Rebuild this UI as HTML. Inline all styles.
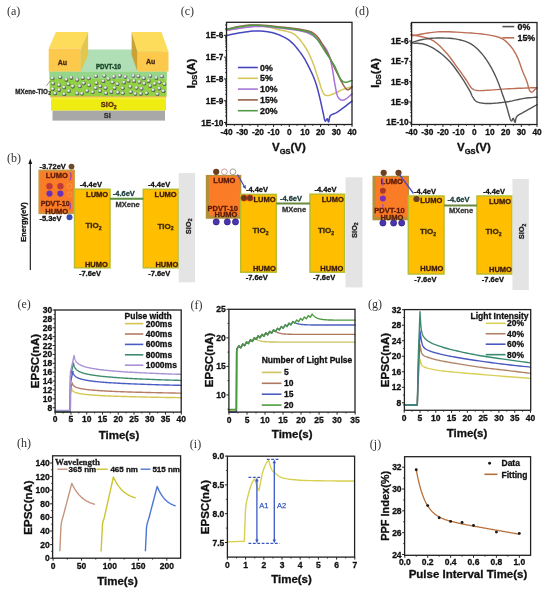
<!DOCTYPE html>
<html><head><meta charset="utf-8"><style>
html,body{margin:0;padding:0;background:#fff;width:550px;height:594px;overflow:hidden}
svg{display:block;will-change:transform}
</style></head><body>
<svg width="550" height="594" viewBox="0 0 550 594">
<rect x="0" y="0" width="550" height="594" fill="#fff"/>
<text x="7" y="14.5" font-size="12" text-anchor="start" font-weight="normal" fill="#333" font-family="'Liberation Serif', serif" >(a)</text>
<rect x="52.5" y="110.4" width="112.5" height="10.2" fill="#a8a8a8" stroke="none" stroke-width="1" />
<rect x="51" y="97.2" width="115" height="13.3" fill="#eeec10" stroke="none" stroke-width="1" />
<rect x="51" y="97.2" width="115" height="2" fill="#f0ee40" stroke="none" stroke-width="1" />
<rect x="50" y="96.1" width="116.5" height="1.2" fill="#e0b448" stroke="none" stroke-width="1" />
<rect x="49.6" y="71.5" width="117" height="24.6" fill="#92d046" stroke="none" stroke-width="1" />
<rect x="49.6" y="71.5" width="117" height="7.5" fill="#96d68a" stroke="none" stroke-width="1" />
<polygon points="56,49.6 162,49.6 168,71.6 49,71.6" fill="#b0dfb6" stroke="none" stroke-width="1" />
<polygon points="55.9,32 88.1,32 80.7,48.5 48.7,48.5" fill="#fddc5c" stroke="none" stroke-width="1" />
<polygon points="80.7,48.5 88.1,32 88.1,55 80.7,71.5" fill="#e2c64e" stroke="none" stroke-width="1" />
<rect x="48.7" y="48.5" width="32" height="23" fill="#fcc94c" stroke="none" stroke-width="1" />
<polygon points="131.6,32 161.5,32 168.5,51.7 137.4,51.7" fill="#fddc5c" stroke="none" stroke-width="1" />
<polygon points="131.6,32 137.4,51.7 137.4,71.5 131.6,55" fill="#c9a235" stroke="none" stroke-width="1" />
<rect x="137.4" y="51.7" width="31.1" height="19.8" fill="#fcc94c" stroke="none" stroke-width="1" />
<defs><radialGradient id="sph" cx="40%" cy="35%" r="65%"><stop offset="0" stop-color="#ffffff"/><stop offset="0.35" stop-color="#d4d8d4"/><stop offset="0.75" stop-color="#6c746c"/><stop offset="1" stop-color="#343c34"/></radialGradient></defs>
<circle cx="88.77" cy="78.34" r="1.95" fill="url(#sph)" stroke="none" stroke-width="1" />
<circle cx="125.4" cy="76.86" r="1.95" fill="url(#sph)" stroke="none" stroke-width="1" />
<circle cx="112.52" cy="82.37" r="1.95" fill="url(#sph)" stroke="none" stroke-width="1" />
<circle cx="59" cy="85.04" r="1.95" fill="url(#sph)" stroke="none" stroke-width="1" />
<circle cx="60.32" cy="77.21" r="1.95" fill="url(#sph)" stroke="none" stroke-width="1" />
<circle cx="100.05" cy="91.04" r="1.95" fill="url(#sph)" stroke="none" stroke-width="1" />
<circle cx="66.37" cy="79.7" r="1.95" fill="url(#sph)" stroke="none" stroke-width="1" />
<circle cx="122.77" cy="93.32" r="1.95" fill="url(#sph)" stroke="none" stroke-width="1" />
<circle cx="161.84" cy="76.38" r="1.95" fill="url(#sph)" stroke="none" stroke-width="1" />
<circle cx="148.65" cy="80.94" r="1.95" fill="url(#sph)" stroke="none" stroke-width="1" />
<circle cx="87.05" cy="90.84" r="1.95" fill="url(#sph)" stroke="none" stroke-width="1" />
<circle cx="72.74" cy="86.43" r="1.95" fill="url(#sph)" stroke="none" stroke-width="1" />
<circle cx="124.06" cy="82.5" r="1.95" fill="url(#sph)" stroke="none" stroke-width="1" />
<circle cx="113.85" cy="76.68" r="1.95" fill="url(#sph)" stroke="none" stroke-width="1" />
<circle cx="103.26" cy="81.14" r="1.95" fill="url(#sph)" stroke="none" stroke-width="1" />
<circle cx="141.47" cy="88.64" r="1.95" fill="url(#sph)" stroke="none" stroke-width="1" />
<circle cx="79.84" cy="86.3" r="1.95" fill="url(#sph)" stroke="none" stroke-width="1" />
<circle cx="111.32" cy="91.95" r="1.95" fill="url(#sph)" stroke="none" stroke-width="1" />
<circle cx="134.2" cy="80.91" r="1.95" fill="url(#sph)" stroke="none" stroke-width="1" />
<circle cx="130.37" cy="86.67" r="1.95" fill="url(#sph)" stroke="none" stroke-width="1" />
<circle cx="117.45" cy="84.08" r="1.95" fill="url(#sph)" stroke="none" stroke-width="1" />
<circle cx="146.58" cy="93.26" r="1.95" fill="url(#sph)" stroke="none" stroke-width="1" />
<circle cx="105.6" cy="87.99" r="1.95" fill="url(#sph)" stroke="none" stroke-width="1" />
<circle cx="95.71" cy="88.07" r="1.95" fill="url(#sph)" stroke="none" stroke-width="1" />
<circle cx="71.32" cy="77.7" r="1.95" fill="url(#sph)" stroke="none" stroke-width="1" />
<circle cx="59.1" cy="89.94" r="1.95" fill="url(#sph)" stroke="none" stroke-width="1" />
<circle cx="83.68" cy="83.31" r="1.95" fill="url(#sph)" stroke="none" stroke-width="1" />
<circle cx="92.68" cy="92.12" r="1.95" fill="url(#sph)" stroke="none" stroke-width="1" />
<circle cx="52.96" cy="83.38" r="1.95" fill="url(#sph)" stroke="none" stroke-width="1" />
<circle cx="159.25" cy="88.48" r="1.95" fill="url(#sph)" stroke="none" stroke-width="1" />
<circle cx="153.25" cy="90.16" r="1.95" fill="url(#sph)" stroke="none" stroke-width="1" />
<circle cx="96.45" cy="83" r="1.95" fill="url(#sph)" stroke="none" stroke-width="1" />
<circle cx="64.1" cy="87.42" r="1.95" fill="url(#sph)" stroke="none" stroke-width="1" />
<circle cx="52.53" cy="78.34" r="1.95" fill="url(#sph)" stroke="none" stroke-width="1" />
<circle cx="55.09" cy="93.38" r="1.95" fill="url(#sph)" stroke="none" stroke-width="1" />
<circle cx="157.45" cy="94.08" r="1.95" fill="url(#sph)" stroke="none" stroke-width="1" />
<circle cx="159.46" cy="82.36" r="1.95" fill="url(#sph)" stroke="none" stroke-width="1" />
<circle cx="77.19" cy="79.76" r="1.95" fill="url(#sph)" stroke="none" stroke-width="1" />
<circle cx="68.87" cy="91.04" r="1.95" fill="url(#sph)" stroke="none" stroke-width="1" />
<circle cx="117.84" cy="92.5" r="1.95" fill="url(#sph)" stroke="none" stroke-width="1" />
<circle cx="89.01" cy="85.24" r="1.95" fill="url(#sph)" stroke="none" stroke-width="1" />
<circle cx="154.7" cy="83.83" r="1.95" fill="url(#sph)" stroke="none" stroke-width="1" />
<circle cx="106.04" cy="93.2" r="1.95" fill="url(#sph)" stroke="none" stroke-width="1" />
<circle cx="130.81" cy="91.98" r="1.95" fill="url(#sph)" stroke="none" stroke-width="1" />
<circle cx="77.09" cy="93.41" r="1.95" fill="url(#sph)" stroke="none" stroke-width="1" />
<circle cx="163.37" cy="91.15" r="1.95" fill="url(#sph)" stroke="none" stroke-width="1" />
<circle cx="133.38" cy="75.87" r="1.95" fill="url(#sph)" stroke="none" stroke-width="1" />
<circle cx="140.8" cy="93.77" r="1.95" fill="url(#sph)" stroke="none" stroke-width="1" />
<circle cx="82.79" cy="77.94" r="1.95" fill="url(#sph)" stroke="none" stroke-width="1" />
<circle cx="108.51" cy="78.84" r="1.95" fill="url(#sph)" stroke="none" stroke-width="1" />
<circle cx="144.22" cy="83.62" r="1.95" fill="url(#sph)" stroke="none" stroke-width="1" />
<circle cx="81.98" cy="93.58" r="1.95" fill="url(#sph)" stroke="none" stroke-width="1" />
<circle cx="136.56" cy="87.86" r="1.95" fill="url(#sph)" stroke="none" stroke-width="1" />
<circle cx="122.64" cy="88.3" r="1.95" fill="url(#sph)" stroke="none" stroke-width="1" />
<circle cx="135.36" cy="93.84" r="1.95" fill="url(#sph)" stroke="none" stroke-width="1" />
<circle cx="156.3" cy="77.89" r="1.95" fill="url(#sph)" stroke="none" stroke-width="1" />
<circle cx="150.26" cy="75.91" r="1.95" fill="url(#sph)" stroke="none" stroke-width="1" />
<circle cx="119.82" cy="75.7" r="1.95" fill="url(#sph)" stroke="none" stroke-width="1" />
<circle cx="138.37" cy="76.26" r="1.95" fill="url(#sph)" stroke="none" stroke-width="1" />
<circle cx="143.85" cy="78.2" r="1.95" fill="url(#sph)" stroke="none" stroke-width="1" />
<circle cx="150.27" cy="85.94" r="1.95" fill="url(#sph)" stroke="none" stroke-width="1" />
<circle cx="64.22" cy="94.17" r="1.95" fill="url(#sph)" stroke="none" stroke-width="1" />
<circle cx="95.99" cy="76.14" r="1.95" fill="url(#sph)" stroke="none" stroke-width="1" />
<circle cx="52.8" cy="89.07" r="1.95" fill="url(#sph)" stroke="none" stroke-width="1" />
<circle cx="139.51" cy="81.86" r="1.95" fill="url(#sph)" stroke="none" stroke-width="1" />
<circle cx="128.49" cy="80.64" r="1.95" fill="url(#sph)" stroke="none" stroke-width="1" />
<circle cx="104.4" cy="75.76" r="1.95" fill="url(#sph)" stroke="none" stroke-width="1" />
<circle cx="164.45" cy="84.08" r="1.95" fill="url(#sph)" stroke="none" stroke-width="1" />
<circle cx="68.42" cy="84.15" r="1.95" fill="url(#sph)" stroke="none" stroke-width="1" />
<circle cx="114.57" cy="87.96" r="1.95" fill="url(#sph)" stroke="none" stroke-width="1" />
<circle cx="100.3" cy="86.25" r="1.95" fill="url(#sph)" stroke="none" stroke-width="1" />
<text x="62.4" y="64.52" font-size="7" text-anchor="middle" font-weight="bold" fill="#4a2a10" font-family="'Liberation Sans', sans-serif"  stroke="#4a2a10" stroke-width="0.3">Au</text>
<text x="150.7" y="64.22" font-size="7" text-anchor="middle" font-weight="bold" fill="#4a2a10" font-family="'Liberation Sans', sans-serif"  stroke="#4a2a10" stroke-width="0.3">Au</text>
<text x="108.4" y="69.19" font-size="7.2" text-anchor="middle" font-weight="bold" fill="#1a4a2a" font-family="'Liberation Sans', sans-serif" textLength="25" lengthAdjust="spacingAndGlyphs" stroke="#1a4a2a" stroke-width="0.45">PDVT-10</text>
<text x="108.7" y="107.2" font-size="7.5" text-anchor="middle" font-weight="bold" fill="#5a2a10" stroke="#5a2a10" stroke-width="0.3" font-family="'Liberation Sans', sans-serif">SiO<tspan font-size="5" dy="1.5">2</tspan></text>
<text x="107.4" y="118" font-size="7.5" text-anchor="middle" font-weight="bold" fill="#333" font-family="'Liberation Sans', sans-serif"  stroke="#333" stroke-width="0.3">Si</text>
<text x="15.3" y="93.6" font-size="7.2" font-weight="bold" fill="#222" stroke="#222" stroke-width="0.3" font-family="'Liberation Sans', sans-serif" textLength="32.6" lengthAdjust="spacingAndGlyphs">MXene-TiO</text>
<text x="48.2" y="95.3" font-size="4.8" font-weight="bold" fill="#222" stroke="#222" stroke-width="0.2" font-family="'Liberation Sans', sans-serif">2</text>
<line x1="46.3" y1="85.9" x2="50.2" y2="81" stroke="#555" stroke-width="0.6" />
<text x="7" y="161.5" font-size="12" text-anchor="start" font-weight="normal" fill="#333" font-family="'Liberation Serif', serif" >(b)</text>
<line x1="30.3" y1="162" x2="30.3" y2="270" stroke="#111" stroke-width="1.1" />
<polygon points="30.3,158.5 28.4,164 32.2,164" fill="#111" stroke="none" stroke-width="1" />
<text x="0" y="0" transform="translate(26,222) rotate(-90)" font-size="7.5" text-anchor="middle" font-weight="bold" fill="#111" stroke="#111" stroke-width="0.3" font-family="'Liberation Sans', sans-serif">Energy(eV)</text>
<rect x="39.3" y="170.5" width="34.7" height="42.7" fill="#fb7c26" stroke="#c89a48" stroke-width="1.8" />
<rect x="74.5" y="189.2" width="35.5" height="78.6" fill="#ffbf00" stroke="#b8bc30" stroke-width="1.5" />
<rect x="143.3" y="189.3" width="35" height="78.5" fill="#ffbf00" stroke="#b8bc30" stroke-width="1.5" />
<rect x="178.7" y="173.1" width="16.4" height="109.2" fill="#e4e4e4" stroke="none" stroke-width="1" />
<line x1="110" y1="198.7" x2="143.3" y2="198.7" stroke="#5a9040" stroke-width="2" />
<text x="52.7" y="168.8" font-size="7.5" text-anchor="middle" font-weight="bold" fill="#111" font-family="'Liberation Sans', sans-serif"  stroke="#111" stroke-width="0.3">-3.72eV</text>
<circle cx="71.5" cy="166.6" r="2.9" fill="#6a4a2a" stroke="none" stroke-width="1" />
<text x="56.7" y="177.5" font-size="7.5" text-anchor="middle" font-weight="bold" fill="#5a1a0a" font-family="'Liberation Sans', sans-serif"  stroke="#5a1a0a" stroke-width="0.3">LUMO</text>
<circle cx="49.5" cy="186.3" r="3.2" fill="#c03a3a" stroke="none" stroke-width="1" />
<circle cx="49.5" cy="193.6" r="3.1" fill="#6a30b8" stroke="none" stroke-width="1" />
<circle cx="60.4" cy="186.3" r="3.2" fill="#c03a3a" stroke="none" stroke-width="1" />
<circle cx="60.4" cy="193.6" r="3.1" fill="#6a30b8" stroke="none" stroke-width="1" />
<text x="55.2" y="206.3" font-size="7.5" text-anchor="middle" font-weight="bold" fill="#5a1a0a" font-family="'Liberation Sans', sans-serif" textLength="29" lengthAdjust="spacingAndGlyphs" stroke="#5a1a0a" stroke-width="0.3">PDVT-10</text>
<text x="56.7" y="213.7" font-size="7.5" text-anchor="middle" font-weight="bold" fill="#5a1a0a" font-family="'Liberation Sans', sans-serif"  stroke="#5a1a0a" stroke-width="0.3">HUMO</text>
<text x="50.5" y="221" font-size="7.5" text-anchor="middle" font-weight="bold" fill="#111" font-family="'Liberation Sans', sans-serif"  stroke="#111" stroke-width="0.3">-5.3eV</text>
<circle cx="69.5" cy="217.2" r="3" fill="#3a4ab0" stroke="none" stroke-width="1" />
<path d="M70.2,172.5 Q72.2,176 69.8,180.5" fill="none" stroke="#8a40c8" stroke-width="1.1"/>
<path d="M69.6,209.5 Q71.4,205.5 69.4,202" fill="none" stroke="#8a40c8" stroke-width="1.1"/>
<circle cx="69.6" cy="186.2" r="2.4" fill="none" stroke="#f2a050" stroke-width="0.8" />
<circle cx="69.6" cy="194.3" r="2.4" fill="none" stroke="#f2a050" stroke-width="0.8" />
<text x="90.9" y="187.4" font-size="7.5" text-anchor="middle" font-weight="bold" fill="#111" font-family="'Liberation Sans', sans-serif"  stroke="#111" stroke-width="0.3">-4.4eV</text>
<text x="97.1" y="196.9" font-size="7.5" text-anchor="middle" font-weight="bold" fill="#3a1a0a" font-family="'Liberation Sans', sans-serif"  stroke="#3a1a0a" stroke-width="0.3">LUMO</text>
<text x="93.6" y="228.28" font-size="8" text-anchor="middle" font-weight="bold" fill="#3a2a10" stroke="#3a2a10" stroke-width="0.3" font-family="'Liberation Sans', sans-serif">TiO<tspan font-size="5" dy="1.5">2</tspan></text>
<text x="96.4" y="266.5" font-size="7.5" text-anchor="middle" font-weight="bold" fill="#3a1a0a" font-family="'Liberation Sans', sans-serif"  stroke="#3a1a0a" stroke-width="0.3">HUMO</text>
<text x="90" y="276.1" font-size="7.5" text-anchor="middle" font-weight="bold" fill="#111" font-family="'Liberation Sans', sans-serif"  stroke="#111" stroke-width="0.3">-7.6eV</text>
<text x="123.8" y="196" font-size="7.5" text-anchor="middle" font-weight="bold" fill="#1a3a3a" font-family="'Liberation Sans', sans-serif"  stroke="#1a3a3a" stroke-width="0.3">-4.6eV</text>
<text x="127.6" y="206.7" font-size="7.5" text-anchor="middle" font-weight="bold" fill="#333" font-family="'Liberation Sans', sans-serif"  stroke="#333" stroke-width="0.3">MXene</text>
<text x="159.1" y="187.2" font-size="7.5" text-anchor="middle" font-weight="bold" fill="#111" font-family="'Liberation Sans', sans-serif"  stroke="#111" stroke-width="0.3">-4.4eV</text>
<text x="165.6" y="197.1" font-size="7.5" text-anchor="middle" font-weight="bold" fill="#3a1a0a" font-family="'Liberation Sans', sans-serif"  stroke="#3a1a0a" stroke-width="0.3">LUMO</text>
<text x="165.6" y="228.58" font-size="8" text-anchor="middle" font-weight="bold" fill="#3a2a10" stroke="#3a2a10" stroke-width="0.3" font-family="'Liberation Sans', sans-serif">TiO<tspan font-size="5" dy="1.5">2</tspan></text>
<text x="166.9" y="266.5" font-size="7.5" text-anchor="middle" font-weight="bold" fill="#3a1a0a" font-family="'Liberation Sans', sans-serif"  stroke="#3a1a0a" stroke-width="0.3">HUMO</text>
<text x="159.2" y="276.1" font-size="7.5" text-anchor="middle" font-weight="bold" fill="#111" font-family="'Liberation Sans', sans-serif"  stroke="#111" stroke-width="0.3">-7.6eV</text>
<text transform="translate(190.7,226.4) rotate(-90)" font-size="7.5" text-anchor="middle" font-weight="bold" fill="#222" stroke="#222" stroke-width="0.3" font-family="'Liberation Sans', sans-serif">SiO<tspan font-size="5" dy="1.5">2</tspan></text>
<rect x="206.4" y="175.5" width="34.3" height="42.6" fill="#fb7c26" stroke="#b4903a" stroke-width="1.2" />
<rect x="206.4" y="175.5" width="2.6" height="42.6" fill="#b4903a" stroke="none" stroke-width="1" />
<rect x="206.4" y="215.5" width="34.3" height="2.6" fill="#b4903a" stroke="none" stroke-width="1" />
<rect x="240.7" y="194.4" width="35.5" height="77.8" fill="#ffbf00" stroke="#b8bc30" stroke-width="1.5" />
<rect x="310" y="194.2" width="34.5" height="78" fill="#ffbf00" stroke="#b8bc30" stroke-width="1.5" />
<rect x="345.5" y="177.3" width="17" height="110.1" fill="#e4e4e4" stroke="none" stroke-width="1" />
<line x1="276.2" y1="203.6" x2="310" y2="203.6" stroke="#6a8a40" stroke-width="2" />
<circle cx="216.2" cy="171.8" r="3.1" fill="#6a4020" stroke="none" stroke-width="1" />
<circle cx="224.4" cy="171.8" r="2.9" fill="#fff" stroke="#c89090" stroke-width="0.9" />
<circle cx="232.9" cy="171.8" r="2.9" fill="#fff" stroke="#a09090" stroke-width="0.9" />
<text x="224.4" y="183.2" font-size="7.5" text-anchor="middle" font-weight="bold" fill="#5a1a0a" font-family="'Liberation Sans', sans-serif"  stroke="#5a1a0a" stroke-width="0.3">LUMO</text>
<line x1="237.5" y1="174.5" x2="244.6" y2="187" stroke="#4048b8" stroke-width="1.2" />
<polygon points="246,189.2 242.5,186.8 245.6,185" fill="#3a50b0" stroke="none" stroke-width="1" />
<text x="257" y="192.2" font-size="7.5" text-anchor="middle" font-weight="bold" fill="#111" font-family="'Liberation Sans', sans-serif"  stroke="#111" stroke-width="0.3">-4.4eV</text>
<circle cx="244" cy="198" r="3.1" fill="#6a3a1a" stroke="#d03030" stroke-width="0.7" />
<circle cx="249.9" cy="198" r="3.1" fill="#6a3a1a" stroke="#d03030" stroke-width="0.7" />
<text x="264.5" y="201.5" font-size="7.5" text-anchor="middle" font-weight="bold" fill="#3a1a0a" font-family="'Liberation Sans', sans-serif"  stroke="#3a1a0a" stroke-width="0.3">LUMO</text>
<text x="222.7" y="211" font-size="7.5" text-anchor="middle" font-weight="bold" fill="#5a1a0a" font-family="'Liberation Sans', sans-serif"  stroke="#5a1a0a" stroke-width="0.3">PDVT-10</text>
<text x="226" y="216.7" font-size="7.5" text-anchor="middle" font-weight="bold" fill="#5a1a0a" font-family="'Liberation Sans', sans-serif"  stroke="#5a1a0a" stroke-width="0.3">HUMO</text>
<circle cx="216.2" cy="221.9" r="3.1" fill="#4a34b0" stroke="#2a1a70" stroke-width="0.6" />
<circle cx="227.3" cy="221.9" r="3.1" fill="#4a34b0" stroke="#2a1a70" stroke-width="0.6" />
<circle cx="235.5" cy="221.9" r="3.1" fill="#4a34b0" stroke="#2a1a70" stroke-width="0.6" />
<text x="260.6" y="233.08" font-size="8" text-anchor="middle" font-weight="bold" fill="#3a2a10" stroke="#3a2a10" stroke-width="0.3" font-family="'Liberation Sans', sans-serif">TiO<tspan font-size="5" dy="1.5">2</tspan></text>
<text x="264.4" y="271" font-size="7.5" text-anchor="middle" font-weight="bold" fill="#3a1a0a" font-family="'Liberation Sans', sans-serif"  stroke="#3a1a0a" stroke-width="0.3">HUMO</text>
<text x="256.7" y="280" font-size="7.5" text-anchor="middle" font-weight="bold" fill="#111" font-family="'Liberation Sans', sans-serif"  stroke="#111" stroke-width="0.3">-7.6eV</text>
<text x="291" y="200.9" font-size="7.5" text-anchor="middle" font-weight="bold" fill="#1a3a3a" font-family="'Liberation Sans', sans-serif"  stroke="#1a3a3a" stroke-width="0.3">-4.6eV</text>
<text x="294" y="211.8" font-size="7.5" text-anchor="middle" font-weight="bold" fill="#333" font-family="'Liberation Sans', sans-serif"  stroke="#333" stroke-width="0.3">MXene</text>
<text x="325.5" y="191.8" font-size="7.5" text-anchor="middle" font-weight="bold" fill="#111" font-family="'Liberation Sans', sans-serif"  stroke="#111" stroke-width="0.3">-4.4eV</text>
<text x="332.7" y="201.8" font-size="7.5" text-anchor="middle" font-weight="bold" fill="#3a1a0a" font-family="'Liberation Sans', sans-serif"  stroke="#3a1a0a" stroke-width="0.3">LUMO</text>
<text x="326" y="233.08" font-size="8" text-anchor="middle" font-weight="bold" fill="#3a2a10" stroke="#3a2a10" stroke-width="0.3" font-family="'Liberation Sans', sans-serif">TiO<tspan font-size="5" dy="1.5">2</tspan></text>
<text x="331.8" y="271" font-size="7.5" text-anchor="middle" font-weight="bold" fill="#3a1a0a" font-family="'Liberation Sans', sans-serif"  stroke="#3a1a0a" stroke-width="0.3">HUMO</text>
<text x="324.1" y="280" font-size="7.5" text-anchor="middle" font-weight="bold" fill="#111" font-family="'Liberation Sans', sans-serif"  stroke="#111" stroke-width="0.3">-7.6eV</text>
<text transform="translate(356.9,230.2) rotate(-90)" font-size="7.5" text-anchor="middle" font-weight="bold" fill="#222" stroke="#222" stroke-width="0.3" font-family="'Liberation Sans', sans-serif">SiO<tspan font-size="5" dy="1.5">2</tspan></text>
<rect x="373.1" y="176.4" width="35.2" height="43.3" fill="#fb7c26" stroke="#b4903a" stroke-width="1.2" />
<rect x="373.1" y="176.4" width="2.6" height="43.3" fill="#b4903a" stroke="none" stroke-width="1" />
<rect x="373.1" y="217.1" width="35.2" height="2.6" fill="#b4903a" stroke="none" stroke-width="1" />
<rect x="408.3" y="196" width="35.7" height="78" fill="#ffbf00" stroke="#b8bc30" stroke-width="1.5" />
<rect x="477" y="196" width="35" height="78" fill="#ffbf00" stroke="#b8bc30" stroke-width="1.5" />
<rect x="512.4" y="179" width="16.4" height="111" fill="#e4e4e4" stroke="none" stroke-width="1" />
<line x1="444" y1="205.6" x2="477" y2="205.6" stroke="#6a8a40" stroke-width="2" />
<circle cx="383.7" cy="172.8" r="3.1" fill="#6a4020" stroke="none" stroke-width="1" />
<circle cx="398.5" cy="172.8" r="3.1" fill="#6a4020" stroke="none" stroke-width="1" />
<text x="391.9" y="184" font-size="7.5" text-anchor="middle" font-weight="bold" fill="#5a1a0a" font-family="'Liberation Sans', sans-serif"  stroke="#5a1a0a" stroke-width="0.3">LUMO</text>
<line x1="382.9" y1="178" x2="382.9" y2="186" stroke="#9040d0" stroke-width="1" />
<line x1="382.9" y1="204" x2="382.9" y2="208" stroke="#9040d0" stroke-width="1" />
<circle cx="382.9" cy="190.8" r="3" fill="#a83a2a" stroke="none" stroke-width="1" />
<circle cx="382.9" cy="198.5" r="3" fill="#7a30b8" stroke="none" stroke-width="1" />
<text x="389.5" y="212.7" font-size="7.5" text-anchor="middle" font-weight="bold" fill="#5a1a0a" font-family="'Liberation Sans', sans-serif"  stroke="#5a1a0a" stroke-width="0.3">PDVT-10</text>
<text x="391.9" y="220" font-size="7.5" text-anchor="middle" font-weight="bold" fill="#5a1a0a" font-family="'Liberation Sans', sans-serif"  stroke="#5a1a0a" stroke-width="0.3">HUMO</text>
<circle cx="382.9" cy="223" r="3.1" fill="#4a34b0" stroke="#2a1a70" stroke-width="0.6" />
<circle cx="393.6" cy="223" r="3.1" fill="#4a34b0" stroke="#2a1a70" stroke-width="0.6" />
<circle cx="401.7" cy="223" r="3.1" fill="#4a34b0" stroke="#2a1a70" stroke-width="0.6" />
<line x1="399.5" y1="174.5" x2="413.5" y2="193.5" stroke="#5048c0" stroke-width="1.3" />
<text x="425" y="193.5" font-size="7.5" text-anchor="middle" font-weight="bold" fill="#111" font-family="'Liberation Sans', sans-serif"  stroke="#111" stroke-width="0.3">-4.4eV</text>
<circle cx="416.5" cy="199" r="3.1" fill="#6a4020" stroke="none" stroke-width="1" />
<text x="431.2" y="202.8" font-size="7.5" text-anchor="middle" font-weight="bold" fill="#3a1a0a" font-family="'Liberation Sans', sans-serif"  stroke="#3a1a0a" stroke-width="0.3">LUMO</text>
<text x="428.1" y="234.28" font-size="8" text-anchor="middle" font-weight="bold" fill="#3a2a10" stroke="#3a2a10" stroke-width="0.3" font-family="'Liberation Sans', sans-serif">TiO<tspan font-size="5" dy="1.5">2</tspan></text>
<text x="431.8" y="271" font-size="7.5" text-anchor="middle" font-weight="bold" fill="#3a1a0a" font-family="'Liberation Sans', sans-serif"  stroke="#3a1a0a" stroke-width="0.3">HUMO</text>
<text x="425.4" y="282" font-size="7.5" text-anchor="middle" font-weight="bold" fill="#111" font-family="'Liberation Sans', sans-serif"  stroke="#111" stroke-width="0.3">-7.6eV</text>
<text x="458.5" y="201.7" font-size="7.5" text-anchor="middle" font-weight="bold" fill="#1a3a3a" font-family="'Liberation Sans', sans-serif"  stroke="#1a3a3a" stroke-width="0.3">-4.6eV</text>
<text x="461" y="213.1" font-size="7.5" text-anchor="middle" font-weight="bold" fill="#333" font-family="'Liberation Sans', sans-serif"  stroke="#333" stroke-width="0.3">MXene</text>
<text x="494" y="193.7" font-size="7.5" text-anchor="middle" font-weight="bold" fill="#111" font-family="'Liberation Sans', sans-serif"  stroke="#111" stroke-width="0.3">-4.4eV</text>
<text x="500" y="203.7" font-size="7.5" text-anchor="middle" font-weight="bold" fill="#3a1a0a" font-family="'Liberation Sans', sans-serif"  stroke="#3a1a0a" stroke-width="0.3">LUMO</text>
<text x="493.5" y="234.28" font-size="8" text-anchor="middle" font-weight="bold" fill="#3a2a10" stroke="#3a2a10" stroke-width="0.3" font-family="'Liberation Sans', sans-serif">TiO<tspan font-size="5" dy="1.5">2</tspan></text>
<text x="500.5" y="271.7" font-size="7.5" text-anchor="middle" font-weight="bold" fill="#3a1a0a" font-family="'Liberation Sans', sans-serif"  stroke="#3a1a0a" stroke-width="0.3">HUMO</text>
<text x="492.9" y="282" font-size="7.5" text-anchor="middle" font-weight="bold" fill="#111" font-family="'Liberation Sans', sans-serif"  stroke="#111" stroke-width="0.3">-7.6eV</text>
<text transform="translate(524.3,231.5) rotate(-90)" font-size="7.5" text-anchor="middle" font-weight="bold" fill="#222" stroke="#222" stroke-width="0.3" font-family="'Liberation Sans', sans-serif">SiO<tspan font-size="5" dy="1.5">2</tspan></text>
<text x="180.8" y="14.6" font-size="12" text-anchor="start" font-weight="normal" fill="#333" font-family="'Liberation Serif', serif" >(c)</text>
<polyline points="226.5,30.6 227.89,30.31 229.76,29.9 232,29.43 234.52,28.92 237.22,28.43 240,28 242.96,27.56 246.19,27.07 249.59,26.59 253.09,26.21 256.59,25.98 260,26 263.4,26.3 266.87,26.84 270.35,27.54 273.75,28.34 276.99,29.15 280,29.9 282.77,30.52 285.35,31.06 287.78,31.61 290.07,32.28 292.27,33.17 294.4,34.4 296.45,36.01 298.4,37.93 300.25,40.07 302,42.36 303.65,44.7 305.2,47 306.63,49.29 307.93,51.63 309.13,54.02 310.26,56.47 311.34,58.96 312.4,61.5 313.43,64.13 314.4,66.87 315.32,69.66 316.2,72.44 317.06,75.14 317.9,77.7 318.72,80.21 319.51,82.74 320.27,85.2 321,87.49 321.71,89.52 322.4,91.2 323.02,92.5 323.57,93.49 324.09,94.21 324.63,94.74 325.25,95.11 326,95.4 326.84,95.57 327.73,95.57 328.7,95.42 329.77,95.14 330.96,94.76 332.3,94.3 333.86,93.68 335.64,92.87 337.54,91.95 339.47,91.01 341.36,90.13 343.1,89.4 344.8,88.79 346.54,88.24 348.23,87.74 349.76,87.32 351.05,86.97 352,86.7" fill="none" stroke="#d4c65a" stroke-width="1.5" stroke-linejoin="round" stroke-linecap="round" />
<polyline points="226.5,30.3 228.55,29.97 231.43,29.51 234.81,28.96 238.41,28.4 241.91,27.89 245,27.5 247.64,27.2 250.07,26.94 252.41,26.73 254.76,26.57 257.25,26.5 260,26.5 262.96,26.58 266.04,26.73 269.25,26.96 272.63,27.26 276.2,27.64 280,28.1 284.24,28.61 288.94,29.15 293.84,29.77 298.67,30.53 303.14,31.45 307,32.6 310.22,34.03 313.03,35.73 315.49,37.6 317.67,39.56 319.65,41.52 321.5,43.4 323.16,45.17 324.57,46.9 325.78,48.62 326.84,50.4 327.79,52.28 328.7,54.3 329.52,56.48 330.2,58.77 330.78,61.17 331.3,63.64 331.79,66.16 332.3,68.7 332.8,71.35 333.27,74.13 333.71,76.97 334.13,79.77 334.56,82.44 335,84.9 335.43,87.2 335.83,89.43 336.24,91.54 336.67,93.47 337.15,95.17 337.7,96.6 338.35,97.73 339.07,98.6 339.84,99.24 340.63,99.7 341.43,100.01 342.2,100.2 342.94,100.24 343.67,100.1 344.4,99.81 345.14,99.4 345.9,98.92 346.7,98.4 347.6,97.75 348.6,96.93 349.63,96.04 350.6,95.17 351.41,94.42 352,93.9" fill="none" stroke="#a874d8" stroke-width="1.5" stroke-linejoin="round" stroke-linecap="round" />
<polyline points="226.5,35.6 227.94,35.28 229.92,34.84 232.27,34.31 234.84,33.76 237.47,33.24 240,32.8 242.51,32.41 245.12,32.01 247.8,31.65 250.49,31.34 253.14,31.11 255.7,31 258.21,31 260.73,31.11 263.21,31.29 265.6,31.55 267.88,31.86 270,32.2 271.91,32.57 273.62,32.97 275.22,33.43 276.77,33.96 278.34,34.58 280,35.3 281.75,36.09 283.54,36.93 285.35,37.85 287.17,38.91 288.99,40.14 290.8,41.6 292.64,43.35 294.53,45.36 296.43,47.56 298.27,49.84 300.01,52.12 301.6,54.3 303.02,56.38 304.3,58.44 305.48,60.49 306.59,62.57 307.69,64.7 308.8,66.9 309.93,69.18 311.06,71.5 312.17,73.88 313.24,76.3 314.25,78.78 315.2,81.3 316.07,83.9 316.87,86.57 317.62,89.29 318.34,92.03 319.02,94.78 319.7,97.5 320.37,100.3 321.03,103.23 321.67,106.16 322.27,108.96 322.81,111.52 323.3,113.7 323.7,115.54 324.02,117.14 324.29,118.5 324.54,119.6 324.8,120.44 325.1,121 325.44,121.12 325.8,120.77 326.17,120.16 326.53,119.49 326.88,118.97 327.2,118.8 327.48,119.12 327.73,119.79 327.97,120.61 328.2,121.37 328.44,121.87 328.7,121.9 328.92,121.35 329.08,120.37 329.24,119.12 329.49,117.78 329.88,116.51 330.5,115.5 331.31,114.82 332.24,114.36 333.32,113.98 334.57,113.53 336.03,112.88 337.7,111.9 339.84,110.39 342.47,108.43 345.3,106.28 348.03,104.17 350.36,102.36 352,101.1" fill="none" stroke="#4646c0" stroke-width="1.5" stroke-linejoin="round" stroke-linecap="round" />
<polyline points="226.5,29.3 227.94,28.96 229.92,28.46 232.27,27.89 234.84,27.29 237.47,26.74 240,26.3 242.39,25.93 244.75,25.59 247.18,25.29 249.75,25.06 252.56,24.92 255.7,24.9 259.26,25.02 263.2,25.28 267.37,25.62 271.65,26.03 275.9,26.47 280,26.9 284.08,27.31 288.26,27.74 292.43,28.19 296.43,28.69 300.13,29.25 303.4,29.9 306.16,30.53 308.5,31.09 310.54,31.72 312.4,32.54 314.22,33.7 316.1,35.3 318.05,37.5 319.97,40.23 321.84,43.28 323.64,46.46 325.33,49.57 326.9,52.4 328.31,54.97 329.57,57.43 330.72,59.82 331.83,62.17 332.94,64.52 334.1,66.9 335.32,69.38 336.57,71.94 337.81,74.5 339.03,76.97 340.2,79.27 341.3,81.3 342.33,83.12 343.3,84.8 344.22,86.31 345.1,87.6 345.93,88.64 346.7,89.4 347.43,89.78 348.1,89.8 348.73,89.57 349.31,89.2 349.83,88.81 350.3,88.5 350.71,88.23 351.07,87.9 351.38,87.54 351.63,87.2 351.84,86.91 352,86.7" fill="none" stroke="#946048" stroke-width="1.5" stroke-linejoin="round" stroke-linecap="round" />
<polyline points="226.5,29.6 227.94,29.28 229.92,28.83 232.27,28.29 234.84,27.74 237.47,27.22 240,26.8 242.39,26.43 244.75,26.07 247.18,25.74 249.75,25.49 252.56,25.33 255.7,25.3 259.22,25.42 263.06,25.65 267.14,25.99 271.38,26.4 275.69,26.88 280,27.4 284.55,27.97 289.46,28.6 294.45,29.29 299.23,30.04 303.5,30.84 307,31.7 309.55,32.55 311.36,33.39 312.68,34.28 313.74,35.29 314.8,36.51 316.1,38 317.61,39.83 319.11,41.96 320.61,44.29 322.1,46.73 323.6,49.16 325.1,51.5 326.63,53.76 328.2,56.03 329.77,58.3 331.3,60.57 332.76,62.84 334.1,65.1 335.33,67.47 336.47,69.97 337.53,72.47 338.53,74.84 339.49,76.92 340.4,78.6 341.25,79.82 342.03,80.7 342.76,81.3 343.47,81.7 344.17,81.97 344.9,82.2 345.67,82.31 346.47,82.23 347.27,82.03 348.04,81.77 348.76,81.5 349.4,81.3 349.97,81.14 350.5,80.97 350.98,80.79 351.4,80.63 351.74,80.5 352,80.4" fill="none" stroke="#529a48" stroke-width="1.5" stroke-linejoin="round" stroke-linecap="round" />
<line x1="237.9" y1="67.5" x2="257.8" y2="67.5" stroke="#4646c0" stroke-width="1.6" />
<text x="260" y="70.67" font-size="8.8" text-anchor="start" font-weight="bold" fill="#111" font-family="'Liberation Sans', sans-serif"  stroke="#111" stroke-width="0.3">0%</text>
<line x1="237.9" y1="78.3" x2="257.8" y2="78.3" stroke="#d4c65a" stroke-width="1.6" />
<text x="260" y="81.47" font-size="8.8" text-anchor="start" font-weight="bold" fill="#111" font-family="'Liberation Sans', sans-serif"  stroke="#111" stroke-width="0.3">5%</text>
<line x1="237.9" y1="89.1" x2="257.8" y2="89.1" stroke="#a874d8" stroke-width="1.6" />
<text x="260" y="92.27" font-size="8.8" text-anchor="start" font-weight="bold" fill="#111" font-family="'Liberation Sans', sans-serif"  stroke="#111" stroke-width="0.3">10%</text>
<line x1="237.9" y1="99.9" x2="257.8" y2="99.9" stroke="#946048" stroke-width="1.6" />
<text x="260" y="103.07" font-size="8.8" text-anchor="start" font-weight="bold" fill="#111" font-family="'Liberation Sans', sans-serif"  stroke="#111" stroke-width="0.3">15%</text>
<line x1="237.9" y1="110.7" x2="257.8" y2="110.7" stroke="#529a48" stroke-width="1.6" />
<text x="260" y="113.87" font-size="8.8" text-anchor="start" font-weight="bold" fill="#111" font-family="'Liberation Sans', sans-serif"  stroke="#111" stroke-width="0.3">20%</text>
<rect x="226.5" y="22.3" width="125.5" height="102.2" fill="none" stroke="#222" stroke-width="1.3" />
<line x1="224" y1="35.4" x2="226.5" y2="35.4" stroke="#222" stroke-width="1" />
<text x="223.4" y="38.39" font-size="8.3" text-anchor="end" font-weight="bold" fill="#111" font-family="'Liberation Sans', sans-serif"  stroke="#111" stroke-width="0.3">1E-6</text>
<line x1="224" y1="57.18" x2="226.5" y2="57.18" stroke="#222" stroke-width="1" />
<text x="223.4" y="60.17" font-size="8.3" text-anchor="end" font-weight="bold" fill="#111" font-family="'Liberation Sans', sans-serif"  stroke="#111" stroke-width="0.3">1E-7</text>
<line x1="224" y1="78.96" x2="226.5" y2="78.96" stroke="#222" stroke-width="1" />
<text x="223.4" y="81.95" font-size="8.3" text-anchor="end" font-weight="bold" fill="#111" font-family="'Liberation Sans', sans-serif"  stroke="#111" stroke-width="0.3">1E-8</text>
<line x1="224" y1="100.74" x2="226.5" y2="100.74" stroke="#222" stroke-width="1" />
<text x="223.4" y="103.73" font-size="8.3" text-anchor="end" font-weight="bold" fill="#111" font-family="'Liberation Sans', sans-serif"  stroke="#111" stroke-width="0.3">1E-9</text>
<line x1="224" y1="122.52" x2="226.5" y2="122.52" stroke="#222" stroke-width="1" />
<text x="223.4" y="125.51" font-size="8.3" text-anchor="end" font-weight="bold" fill="#111" font-family="'Liberation Sans', sans-serif"  stroke="#111" stroke-width="0.3">1E-10</text>
<line x1="225" y1="124.63" x2="226.5" y2="124.63" stroke="#222" stroke-width="0.8" />
<line x1="225" y1="123.52" x2="226.5" y2="123.52" stroke="#222" stroke-width="0.8" />
<line x1="225" y1="115.96" x2="226.5" y2="115.96" stroke="#222" stroke-width="0.8" />
<line x1="225" y1="112.13" x2="226.5" y2="112.13" stroke="#222" stroke-width="0.8" />
<line x1="225" y1="109.41" x2="226.5" y2="109.41" stroke="#222" stroke-width="0.8" />
<line x1="225" y1="107.3" x2="226.5" y2="107.3" stroke="#222" stroke-width="0.8" />
<line x1="225" y1="105.57" x2="226.5" y2="105.57" stroke="#222" stroke-width="0.8" />
<line x1="225" y1="104.11" x2="226.5" y2="104.11" stroke="#222" stroke-width="0.8" />
<line x1="225" y1="102.85" x2="226.5" y2="102.85" stroke="#222" stroke-width="0.8" />
<line x1="225" y1="101.74" x2="226.5" y2="101.74" stroke="#222" stroke-width="0.8" />
<line x1="225" y1="94.18" x2="226.5" y2="94.18" stroke="#222" stroke-width="0.8" />
<line x1="225" y1="90.35" x2="226.5" y2="90.35" stroke="#222" stroke-width="0.8" />
<line x1="225" y1="87.63" x2="226.5" y2="87.63" stroke="#222" stroke-width="0.8" />
<line x1="225" y1="85.52" x2="226.5" y2="85.52" stroke="#222" stroke-width="0.8" />
<line x1="225" y1="83.79" x2="226.5" y2="83.79" stroke="#222" stroke-width="0.8" />
<line x1="225" y1="82.33" x2="226.5" y2="82.33" stroke="#222" stroke-width="0.8" />
<line x1="225" y1="81.07" x2="226.5" y2="81.07" stroke="#222" stroke-width="0.8" />
<line x1="225" y1="79.96" x2="226.5" y2="79.96" stroke="#222" stroke-width="0.8" />
<line x1="225" y1="72.4" x2="226.5" y2="72.4" stroke="#222" stroke-width="0.8" />
<line x1="225" y1="68.57" x2="226.5" y2="68.57" stroke="#222" stroke-width="0.8" />
<line x1="225" y1="65.85" x2="226.5" y2="65.85" stroke="#222" stroke-width="0.8" />
<line x1="225" y1="63.74" x2="226.5" y2="63.74" stroke="#222" stroke-width="0.8" />
<line x1="225" y1="62.01" x2="226.5" y2="62.01" stroke="#222" stroke-width="0.8" />
<line x1="225" y1="60.55" x2="226.5" y2="60.55" stroke="#222" stroke-width="0.8" />
<line x1="225" y1="59.29" x2="226.5" y2="59.29" stroke="#222" stroke-width="0.8" />
<line x1="225" y1="58.18" x2="226.5" y2="58.18" stroke="#222" stroke-width="0.8" />
<line x1="225" y1="50.62" x2="226.5" y2="50.62" stroke="#222" stroke-width="0.8" />
<line x1="225" y1="46.79" x2="226.5" y2="46.79" stroke="#222" stroke-width="0.8" />
<line x1="225" y1="44.07" x2="226.5" y2="44.07" stroke="#222" stroke-width="0.8" />
<line x1="225" y1="41.96" x2="226.5" y2="41.96" stroke="#222" stroke-width="0.8" />
<line x1="225" y1="40.23" x2="226.5" y2="40.23" stroke="#222" stroke-width="0.8" />
<line x1="225" y1="38.77" x2="226.5" y2="38.77" stroke="#222" stroke-width="0.8" />
<line x1="225" y1="37.51" x2="226.5" y2="37.51" stroke="#222" stroke-width="0.8" />
<line x1="225" y1="36.4" x2="226.5" y2="36.4" stroke="#222" stroke-width="0.8" />
<line x1="225" y1="28.84" x2="226.5" y2="28.84" stroke="#222" stroke-width="0.8" />
<line x1="225" y1="25.01" x2="226.5" y2="25.01" stroke="#222" stroke-width="0.8" />
<line x1="226.5" y1="124.5" x2="226.5" y2="127" stroke="#222" stroke-width="1" />
<text x="226.5" y="135.29" font-size="8.3" text-anchor="middle" font-weight="bold" fill="#111" font-family="'Liberation Sans', sans-serif"  stroke="#111" stroke-width="0.3">-40</text>
<line x1="242.19" y1="124.5" x2="242.19" y2="127" stroke="#222" stroke-width="1" />
<text x="242.19" y="135.29" font-size="8.3" text-anchor="middle" font-weight="bold" fill="#111" font-family="'Liberation Sans', sans-serif"  stroke="#111" stroke-width="0.3">-30</text>
<line x1="257.88" y1="124.5" x2="257.88" y2="127" stroke="#222" stroke-width="1" />
<text x="257.88" y="135.29" font-size="8.3" text-anchor="middle" font-weight="bold" fill="#111" font-family="'Liberation Sans', sans-serif"  stroke="#111" stroke-width="0.3">-20</text>
<line x1="273.56" y1="124.5" x2="273.56" y2="127" stroke="#222" stroke-width="1" />
<text x="273.56" y="135.29" font-size="8.3" text-anchor="middle" font-weight="bold" fill="#111" font-family="'Liberation Sans', sans-serif"  stroke="#111" stroke-width="0.3">-10</text>
<line x1="289.25" y1="124.5" x2="289.25" y2="127" stroke="#222" stroke-width="1" />
<text x="289.25" y="135.29" font-size="8.3" text-anchor="middle" font-weight="bold" fill="#111" font-family="'Liberation Sans', sans-serif"  stroke="#111" stroke-width="0.3">0</text>
<line x1="304.94" y1="124.5" x2="304.94" y2="127" stroke="#222" stroke-width="1" />
<text x="304.94" y="135.29" font-size="8.3" text-anchor="middle" font-weight="bold" fill="#111" font-family="'Liberation Sans', sans-serif"  stroke="#111" stroke-width="0.3">10</text>
<line x1="320.62" y1="124.5" x2="320.62" y2="127" stroke="#222" stroke-width="1" />
<text x="320.62" y="135.29" font-size="8.3" text-anchor="middle" font-weight="bold" fill="#111" font-family="'Liberation Sans', sans-serif"  stroke="#111" stroke-width="0.3">20</text>
<line x1="336.31" y1="124.5" x2="336.31" y2="127" stroke="#222" stroke-width="1" />
<text x="336.31" y="135.29" font-size="8.3" text-anchor="middle" font-weight="bold" fill="#111" font-family="'Liberation Sans', sans-serif"  stroke="#111" stroke-width="0.3">30</text>
<line x1="352" y1="124.5" x2="352" y2="127" stroke="#222" stroke-width="1" />
<text x="352" y="135.29" font-size="8.3" text-anchor="middle" font-weight="bold" fill="#111" font-family="'Liberation Sans', sans-serif"  stroke="#111" stroke-width="0.3">40</text>
<line x1="234.34" y1="124.5" x2="234.34" y2="126" stroke="#222" stroke-width="0.8" />
<line x1="250.03" y1="124.5" x2="250.03" y2="126" stroke="#222" stroke-width="0.8" />
<line x1="265.72" y1="124.5" x2="265.72" y2="126" stroke="#222" stroke-width="0.8" />
<line x1="281.41" y1="124.5" x2="281.41" y2="126" stroke="#222" stroke-width="0.8" />
<line x1="297.09" y1="124.5" x2="297.09" y2="126" stroke="#222" stroke-width="0.8" />
<line x1="312.78" y1="124.5" x2="312.78" y2="126" stroke="#222" stroke-width="0.8" />
<line x1="328.47" y1="124.5" x2="328.47" y2="126" stroke="#222" stroke-width="0.8" />
<line x1="344.16" y1="124.5" x2="344.16" y2="126" stroke="#222" stroke-width="0.8" />
<text transform="translate(194.5,88.3) rotate(-90)" font-size="11.5" font-weight="bold" fill="#111" stroke="#111" stroke-width="0.3" font-family="'Liberation Sans', sans-serif">I<tspan font-size="7.5" dy="2.2">DS</tspan><tspan dy="-2.2">(A)</tspan></text>
<text x="272" y="151.2" font-size="11.5" font-weight="bold" fill="#111" stroke="#111" stroke-width="0.3" font-family="'Liberation Sans', sans-serif">V<tspan font-size="7.5" dy="2.6">GS</tspan><tspan dy="-2.6">(V)</tspan></text>
<text x="355" y="14.6" font-size="12" text-anchor="start" font-weight="normal" fill="#333" font-family="'Liberation Serif', serif" >(d)</text>
<polyline points="411.8,35.9 413.58,35.57 416.07,35.09 419,34.53 422.13,33.96 425.22,33.42 428,33 430.42,32.67 432.66,32.37 434.86,32.11 437.13,31.91 439.6,31.77 442.4,31.7 445.6,31.71 449.12,31.8 452.84,31.96 456.66,32.15 460.45,32.37 464.1,32.6 467.69,32.83 471.32,33.07 474.93,33.33 478.46,33.63 481.83,33.99 485,34.4 487.98,34.85 490.83,35.33 493.54,35.86 496.08,36.47 498.44,37.17 500.6,38 502.51,38.95 504.19,40 505.68,41.14 507.05,42.39 508.37,43.74 509.7,45.2 511.03,46.76 512.31,48.43 513.53,50.2 514.7,52.07 515.83,54.04 516.9,56.1 517.91,58.34 518.87,60.77 519.77,63.31 520.63,65.84 521.47,68.27 522.3,70.5 523.12,72.53 523.93,74.43 524.72,76.24 525.47,77.97 526.16,79.65 526.8,81.3 527.35,82.99 527.83,84.7 528.26,86.36 528.67,87.9 529.07,89.24 529.5,90.3 529.95,91.07 530.4,91.6 530.85,91.93 531.3,92.1 531.75,92.14 532.2,92.1 532.66,91.89 533.12,91.48 533.59,90.94 534.04,90.36 534.48,89.82 534.9,89.4 535.31,89.09 535.72,88.81 536.12,88.58 536.48,88.39 536.78,88.23 537,88.1" fill="none" stroke="#bc6e56" stroke-width="1.4" stroke-linejoin="round" stroke-linecap="round" />
<polyline points="411.8,34.8 414.02,35.25 417.13,35.81 420.8,36.51 424.67,37.38 428.38,38.46 431.6,39.8 434.35,41.45 436.93,43.4 439.36,45.56 441.66,47.86 443.87,50.2 446,52.5 448.04,54.82 449.96,57.24 451.79,59.71 453.54,62.17 455.23,64.58 456.9,66.9 458.57,69.17 460.22,71.46 461.82,73.69 463.33,75.82 464.71,77.77 465.9,79.5 466.89,80.98 467.69,82.26 468.36,83.36 468.93,84.33 469.47,85.2 470,86 470.48,86.69 470.86,87.25 471.19,87.7 471.53,88.09 471.95,88.44 472.5,88.8 473.14,89.17 473.81,89.52 474.56,89.84 475.41,90.11 476.41,90.34 477.6,90.5 478.94,90.59 480.39,90.62 481.99,90.59 483.77,90.53 485.77,90.42 488,90.3 490.56,90.13 493.43,89.9 496.52,89.64 499.71,89.37 502.91,89.11 506,88.9 509.07,88.73 512.22,88.58 515.37,88.44 518.45,88.32 521.38,88.21 524.1,88.1 526.7,87.99 529.26,87.89 531.68,87.8 533.85,87.72 535.66,87.65 537,87.6" fill="none" stroke="#bc6e56" stroke-width="1.4" stroke-linejoin="round" stroke-linecap="round" />
<polyline points="411.8,42.5 412.93,42.16 414.47,41.67 416.3,41.09 418.33,40.5 420.47,39.95 422.6,39.5 424.75,39.14 427,38.8 429.34,38.51 431.79,38.27 434.34,38.09 437,38 439.84,37.97 442.88,37.99 446.02,38.08 449.17,38.24 452.23,38.51 455.1,38.9 457.82,39.39 460.46,39.96 463.01,40.64 465.46,41.43 467.79,42.34 470,43.4 472.06,44.61 473.97,45.96 475.77,47.44 477.49,49.04 479.15,50.73 480.8,52.5 482.43,54.38 484,56.37 485.52,58.47 487,60.64 488.43,62.86 489.8,65.1 491.13,67.4 492.4,69.77 493.62,72.19 494.8,74.63 495.93,77.08 497,79.5 498.02,81.94 499,84.43 499.92,86.92 500.79,89.37 501.62,91.71 502.4,93.9 503.12,95.89 503.76,97.7 504.36,99.41 504.94,101.1 505.51,102.84 506.1,104.7 506.73,106.8 507.37,109.1 508.02,111.44 508.64,113.69 509.21,115.69 509.7,117.3 510.1,118.51 510.43,119.43 510.71,120.11 510.97,120.57 511.22,120.86 511.5,121 511.8,120.84 512.1,120.32 512.4,119.62 512.7,118.93 513,118.43 513.3,118.3 513.6,118.71 513.9,119.54 514.2,120.56 514.5,121.53 514.8,122.22 515.1,122.4 515.34,121.97 515.5,121.09 515.66,119.94 515.9,118.66 516.29,117.43 516.9,116.4 517.72,115.59 518.69,114.89 519.81,114.23 521.08,113.54 522.51,112.79 524.1,111.9 526.07,110.77 528.46,109.43 531,108.02 533.44,106.67 535.53,105.51 537,104.7" fill="none" stroke="#555555" stroke-width="1.4" stroke-linejoin="round" stroke-linecap="round" />
<polyline points="411.8,43.1 413.17,43.17 415.07,43.22 417.31,43.31 419.73,43.48 422.15,43.79 424.4,44.3 426.5,45 428.6,45.85 430.69,46.84 432.79,47.97 434.89,49.22 437,50.6 439.13,52.11 441.3,53.76 443.46,55.54 445.6,57.44 447.69,59.43 449.7,61.5 451.63,63.7 453.51,66.04 455.33,68.48 457.1,70.97 458.83,73.46 460.5,75.9 462.17,78.39 463.85,80.99 465.48,83.58 467,86.07 468.36,88.35 469.5,90.3 470.35,91.88 470.95,93.17 471.38,94.24 471.75,95.19 472.16,96.08 472.7,97 473.3,97.96 473.87,98.89 474.48,99.77 475.19,100.58 476.07,101.3 477.2,101.9 478.55,102.39 480.06,102.79 481.75,103.1 483.63,103.32 485.7,103.45 488,103.5 490.6,103.45 493.5,103.31 496.6,103.08 499.8,102.77 503,102.41 506.1,102 509.16,101.49 512.3,100.87 515.42,100.18 518.48,99.5 521.4,98.89 524.1,98.4 526.69,98.05 529.26,97.78 531.68,97.58 533.84,97.42 535.66,97.3 537,97.2" fill="none" stroke="#555555" stroke-width="1.4" stroke-linejoin="round" stroke-linecap="round" />
<line x1="502.4" y1="26.6" x2="514.2" y2="26.6" stroke="#555555" stroke-width="1.6" />
<text x="517.5" y="29.97" font-size="8.8" text-anchor="start" font-weight="bold" fill="#111" font-family="'Liberation Sans', sans-serif"  stroke="#111" stroke-width="0.3">0%</text>
<line x1="502.4" y1="37.8" x2="514.2" y2="37.8" stroke="#bc6e56" stroke-width="1.6" />
<text x="517.5" y="41.17" font-size="8.8" text-anchor="start" font-weight="bold" fill="#111" font-family="'Liberation Sans', sans-serif"  stroke="#111" stroke-width="0.3">15%</text>
<rect x="411.6" y="22.5" width="125.4" height="102" fill="none" stroke="#222" stroke-width="1.3" />
<line x1="409.1" y1="41" x2="411.6" y2="41" stroke="#222" stroke-width="1" />
<text x="408.5" y="43.99" font-size="8.3" text-anchor="end" font-weight="bold" fill="#111" font-family="'Liberation Sans', sans-serif"  stroke="#111" stroke-width="0.3">1E-6</text>
<line x1="409.1" y1="61.3" x2="411.6" y2="61.3" stroke="#222" stroke-width="1" />
<text x="408.5" y="64.29" font-size="8.3" text-anchor="end" font-weight="bold" fill="#111" font-family="'Liberation Sans', sans-serif"  stroke="#111" stroke-width="0.3">1E-7</text>
<line x1="409.1" y1="81.6" x2="411.6" y2="81.6" stroke="#222" stroke-width="1" />
<text x="408.5" y="84.59" font-size="8.3" text-anchor="end" font-weight="bold" fill="#111" font-family="'Liberation Sans', sans-serif"  stroke="#111" stroke-width="0.3">1E-8</text>
<line x1="409.1" y1="101.9" x2="411.6" y2="101.9" stroke="#222" stroke-width="1" />
<text x="408.5" y="104.89" font-size="8.3" text-anchor="end" font-weight="bold" fill="#111" font-family="'Liberation Sans', sans-serif"  stroke="#111" stroke-width="0.3">1E-9</text>
<line x1="409.1" y1="122.2" x2="411.6" y2="122.2" stroke="#222" stroke-width="1" />
<text x="408.5" y="125.19" font-size="8.3" text-anchor="end" font-weight="bold" fill="#111" font-family="'Liberation Sans', sans-serif"  stroke="#111" stroke-width="0.3">1E-10</text>
<line x1="410.1" y1="124.17" x2="411.6" y2="124.17" stroke="#222" stroke-width="0.8" />
<line x1="410.1" y1="123.13" x2="411.6" y2="123.13" stroke="#222" stroke-width="0.8" />
<line x1="410.1" y1="116.09" x2="411.6" y2="116.09" stroke="#222" stroke-width="0.8" />
<line x1="410.1" y1="112.51" x2="411.6" y2="112.51" stroke="#222" stroke-width="0.8" />
<line x1="410.1" y1="109.98" x2="411.6" y2="109.98" stroke="#222" stroke-width="0.8" />
<line x1="410.1" y1="108.01" x2="411.6" y2="108.01" stroke="#222" stroke-width="0.8" />
<line x1="410.1" y1="106.4" x2="411.6" y2="106.4" stroke="#222" stroke-width="0.8" />
<line x1="410.1" y1="105.04" x2="411.6" y2="105.04" stroke="#222" stroke-width="0.8" />
<line x1="410.1" y1="103.87" x2="411.6" y2="103.87" stroke="#222" stroke-width="0.8" />
<line x1="410.1" y1="102.83" x2="411.6" y2="102.83" stroke="#222" stroke-width="0.8" />
<line x1="410.1" y1="95.79" x2="411.6" y2="95.79" stroke="#222" stroke-width="0.8" />
<line x1="410.1" y1="92.21" x2="411.6" y2="92.21" stroke="#222" stroke-width="0.8" />
<line x1="410.1" y1="89.68" x2="411.6" y2="89.68" stroke="#222" stroke-width="0.8" />
<line x1="410.1" y1="87.71" x2="411.6" y2="87.71" stroke="#222" stroke-width="0.8" />
<line x1="410.1" y1="86.1" x2="411.6" y2="86.1" stroke="#222" stroke-width="0.8" />
<line x1="410.1" y1="84.74" x2="411.6" y2="84.74" stroke="#222" stroke-width="0.8" />
<line x1="410.1" y1="83.57" x2="411.6" y2="83.57" stroke="#222" stroke-width="0.8" />
<line x1="410.1" y1="82.53" x2="411.6" y2="82.53" stroke="#222" stroke-width="0.8" />
<line x1="410.1" y1="75.49" x2="411.6" y2="75.49" stroke="#222" stroke-width="0.8" />
<line x1="410.1" y1="71.91" x2="411.6" y2="71.91" stroke="#222" stroke-width="0.8" />
<line x1="410.1" y1="69.38" x2="411.6" y2="69.38" stroke="#222" stroke-width="0.8" />
<line x1="410.1" y1="67.41" x2="411.6" y2="67.41" stroke="#222" stroke-width="0.8" />
<line x1="410.1" y1="65.8" x2="411.6" y2="65.8" stroke="#222" stroke-width="0.8" />
<line x1="410.1" y1="64.44" x2="411.6" y2="64.44" stroke="#222" stroke-width="0.8" />
<line x1="410.1" y1="63.27" x2="411.6" y2="63.27" stroke="#222" stroke-width="0.8" />
<line x1="410.1" y1="62.23" x2="411.6" y2="62.23" stroke="#222" stroke-width="0.8" />
<line x1="410.1" y1="55.19" x2="411.6" y2="55.19" stroke="#222" stroke-width="0.8" />
<line x1="410.1" y1="51.61" x2="411.6" y2="51.61" stroke="#222" stroke-width="0.8" />
<line x1="410.1" y1="49.08" x2="411.6" y2="49.08" stroke="#222" stroke-width="0.8" />
<line x1="410.1" y1="47.11" x2="411.6" y2="47.11" stroke="#222" stroke-width="0.8" />
<line x1="410.1" y1="45.5" x2="411.6" y2="45.5" stroke="#222" stroke-width="0.8" />
<line x1="410.1" y1="44.14" x2="411.6" y2="44.14" stroke="#222" stroke-width="0.8" />
<line x1="410.1" y1="42.97" x2="411.6" y2="42.97" stroke="#222" stroke-width="0.8" />
<line x1="410.1" y1="41.93" x2="411.6" y2="41.93" stroke="#222" stroke-width="0.8" />
<line x1="410.1" y1="34.89" x2="411.6" y2="34.89" stroke="#222" stroke-width="0.8" />
<line x1="410.1" y1="31.31" x2="411.6" y2="31.31" stroke="#222" stroke-width="0.8" />
<line x1="410.1" y1="28.78" x2="411.6" y2="28.78" stroke="#222" stroke-width="0.8" />
<line x1="410.1" y1="26.81" x2="411.6" y2="26.81" stroke="#222" stroke-width="0.8" />
<line x1="410.1" y1="25.2" x2="411.6" y2="25.2" stroke="#222" stroke-width="0.8" />
<line x1="410.1" y1="23.84" x2="411.6" y2="23.84" stroke="#222" stroke-width="0.8" />
<line x1="411.6" y1="124.5" x2="411.6" y2="127" stroke="#222" stroke-width="1" />
<text x="411.6" y="135.29" font-size="8.3" text-anchor="middle" font-weight="bold" fill="#111" font-family="'Liberation Sans', sans-serif"  stroke="#111" stroke-width="0.3">-40</text>
<line x1="427.28" y1="124.5" x2="427.28" y2="127" stroke="#222" stroke-width="1" />
<text x="427.28" y="135.29" font-size="8.3" text-anchor="middle" font-weight="bold" fill="#111" font-family="'Liberation Sans', sans-serif"  stroke="#111" stroke-width="0.3">-30</text>
<line x1="442.95" y1="124.5" x2="442.95" y2="127" stroke="#222" stroke-width="1" />
<text x="442.95" y="135.29" font-size="8.3" text-anchor="middle" font-weight="bold" fill="#111" font-family="'Liberation Sans', sans-serif"  stroke="#111" stroke-width="0.3">-20</text>
<line x1="458.62" y1="124.5" x2="458.62" y2="127" stroke="#222" stroke-width="1" />
<text x="458.62" y="135.29" font-size="8.3" text-anchor="middle" font-weight="bold" fill="#111" font-family="'Liberation Sans', sans-serif"  stroke="#111" stroke-width="0.3">-10</text>
<line x1="474.3" y1="124.5" x2="474.3" y2="127" stroke="#222" stroke-width="1" />
<text x="474.3" y="135.29" font-size="8.3" text-anchor="middle" font-weight="bold" fill="#111" font-family="'Liberation Sans', sans-serif"  stroke="#111" stroke-width="0.3">0</text>
<line x1="489.98" y1="124.5" x2="489.98" y2="127" stroke="#222" stroke-width="1" />
<text x="489.98" y="135.29" font-size="8.3" text-anchor="middle" font-weight="bold" fill="#111" font-family="'Liberation Sans', sans-serif"  stroke="#111" stroke-width="0.3">10</text>
<line x1="505.65" y1="124.5" x2="505.65" y2="127" stroke="#222" stroke-width="1" />
<text x="505.65" y="135.29" font-size="8.3" text-anchor="middle" font-weight="bold" fill="#111" font-family="'Liberation Sans', sans-serif"  stroke="#111" stroke-width="0.3">20</text>
<line x1="521.33" y1="124.5" x2="521.33" y2="127" stroke="#222" stroke-width="1" />
<text x="521.33" y="135.29" font-size="8.3" text-anchor="middle" font-weight="bold" fill="#111" font-family="'Liberation Sans', sans-serif"  stroke="#111" stroke-width="0.3">30</text>
<line x1="537" y1="124.5" x2="537" y2="127" stroke="#222" stroke-width="1" />
<text x="537" y="135.29" font-size="8.3" text-anchor="middle" font-weight="bold" fill="#111" font-family="'Liberation Sans', sans-serif"  stroke="#111" stroke-width="0.3">40</text>
<line x1="419.44" y1="124.5" x2="419.44" y2="126" stroke="#222" stroke-width="0.8" />
<line x1="435.11" y1="124.5" x2="435.11" y2="126" stroke="#222" stroke-width="0.8" />
<line x1="450.79" y1="124.5" x2="450.79" y2="126" stroke="#222" stroke-width="0.8" />
<line x1="466.46" y1="124.5" x2="466.46" y2="126" stroke="#222" stroke-width="0.8" />
<line x1="482.14" y1="124.5" x2="482.14" y2="126" stroke="#222" stroke-width="0.8" />
<line x1="497.81" y1="124.5" x2="497.81" y2="126" stroke="#222" stroke-width="0.8" />
<line x1="513.49" y1="124.5" x2="513.49" y2="126" stroke="#222" stroke-width="0.8" />
<line x1="529.16" y1="124.5" x2="529.16" y2="126" stroke="#222" stroke-width="0.8" />
<text transform="translate(379.2,87.8) rotate(-90)" font-size="11.5" font-weight="bold" fill="#111" stroke="#111" stroke-width="0.3" font-family="'Liberation Sans', sans-serif">I<tspan font-size="7.5" dy="2.2">DS</tspan><tspan dy="-2.2">(A)</tspan></text>
<text x="457" y="151.2" font-size="11.5" font-weight="bold" fill="#111" stroke="#111" stroke-width="0.3" font-family="'Liberation Sans', sans-serif">V<tspan font-size="7.5" dy="2.6">GS</tspan><tspan dy="-2.6">(V)</tspan></text>
<text x="17.5" y="308.2" font-size="12" text-anchor="start" font-weight="normal" fill="#333" font-family="'Liberation Serif', serif" >(e)</text>
<polyline points="55.2,411.92 70.33,411.92 70.4,394.38 71.59,388.61 71.59,388.61 71.6,388.62 71.6,388.65 71.62,388.7 71.63,388.77 71.66,388.85 71.69,388.96 71.72,389.08 71.77,389.21 71.82,389.35 71.88,389.51 71.95,389.66 72.03,389.83 72.11,389.99 72.21,390.16 72.32,390.32 72.44,390.49 72.57,390.65 72.71,390.81 72.86,390.96 73.03,391.11 73.21,391.26 73.39,391.41 73.6,391.55 73.81,391.69 74.04,391.82 74.28,391.95 74.54,392.08 74.81,392.21 75.09,392.33 75.39,392.45 75.71,392.56 76.04,392.68 76.38,392.79 76.74,392.89 77.12,393 77.51,393.1 77.91,393.2 78.34,393.3 78.78,393.4 79.24,393.49 79.71,393.58 80.2,393.67 80.71,393.76 81.24,393.85 81.79,393.93 82.35,394.01 82.93,394.1 83.53,394.17 84.15,394.25 84.78,394.33 85.44,394.41 86.12,394.48 86.81,394.55 87.53,394.62 88.26,394.69 89.01,394.76 89.79,394.83 90.58,394.9 91.4,394.96 92.23,395.03 93.09,395.09 93.97,395.16 94.86,395.22 95.78,395.28 96.72,395.34 97.69,395.4 98.67,395.46 99.68,395.51 100.71,395.57 101.76,395.63 102.83,395.68 103.93,395.74 105.05,395.79 106.19,395.84 107.35,395.9 108.54,395.95 109.75,396 110.99,396.05 112.25,396.1 113.53,396.15 114.83,396.2 116.17,396.24 117.52,396.29 118.9,396.34 120.3,396.39 121.73,396.43 123.18,396.48 124.66,396.52 126.17,396.57 127.69,396.61 129.25,396.65 130.83,396.7 132.43,396.74 134.06,396.78 135.72,396.82 137.4,396.86 139.11,396.9 140.85,396.94 142.61,396.98 144.4,397.02 146.22,397.06 148.06,397.1 149.93,397.14 151.82,397.18 153.75,397.22 155.7,397.25 157.68,397.29 159.68,397.33 161.72,397.36 163.78,397.4 165.87,397.43 167.99,397.47 170.14,397.51 172.31,397.54 174.52,397.57 176.75,397.61 179.01,397.64 181.3,397.68" fill="none" stroke="#d4c650" stroke-width="1.4" stroke-linejoin="round" stroke-linecap="round" />
<polyline points="55.2,411.7 70.33,411.7 70.4,389.94 72.22,382.84 72.22,382.84 72.23,382.86 72.23,382.89 72.25,382.94 72.26,383.02 72.29,383.11 72.32,383.23 72.35,383.37 72.4,383.52 72.45,383.68 72.51,383.85 72.58,384.03 72.65,384.22 72.74,384.41 72.84,384.59 72.95,384.78 73.06,384.97 73.19,385.15 73.33,385.33 73.49,385.51 73.65,385.68 73.83,385.85 74.01,386.02 74.22,386.18 74.43,386.33 74.66,386.49 74.9,386.64 75.15,386.78 75.42,386.93 75.7,387.06 76,387.2 76.31,387.33 76.64,387.46 76.98,387.58 77.34,387.71 77.71,387.83 78.1,387.94 78.51,388.06 78.93,388.17 79.37,388.28 79.82,388.39 80.3,388.49 80.78,388.59 81.29,388.69 81.82,388.79 82.36,388.89 82.92,388.98 83.49,389.08 84.09,389.17 84.71,389.26 85.34,389.34 85.99,389.43 86.66,389.51 87.35,389.6 88.06,389.68 88.79,389.76 89.54,389.84 90.31,389.91 91.1,389.99 91.91,390.07 92.74,390.14 93.6,390.21 94.47,390.28 95.36,390.35 96.28,390.42 97.21,390.49 98.17,390.56 99.15,390.63 100.15,390.69 101.17,390.76 102.22,390.82 103.28,390.88 104.37,390.94 105.49,391.01 106.62,391.07 107.78,391.13 108.96,391.18 110.16,391.24 111.39,391.3 112.64,391.36 113.92,391.41 115.22,391.47 116.54,391.52 117.89,391.58 119.26,391.63 120.65,391.68 122.07,391.74 123.52,391.79 124.99,391.84 126.48,391.89 128,391.94 129.55,391.99 131.12,392.04 132.71,392.09 134.34,392.13 135.98,392.18 137.66,392.23 139.36,392.27 141.08,392.32 142.83,392.37 144.61,392.41 146.42,392.45 148.25,392.5 150.11,392.54 151.99,392.59 153.91,392.63 155.85,392.67 157.81,392.71 159.81,392.76 161.83,392.8 163.88,392.84 165.96,392.88 168.07,392.92 170.2,392.96 172.36,393 174.55,393.04 176.77,393.08 179.02,393.11 181.3,393.15" fill="none" stroke="#b47c64" stroke-width="1.4" stroke-linejoin="round" stroke-linecap="round" />
<polyline points="55.2,411.47 70.33,411.47 70.4,383.28 72.85,371.29 72.85,371.3 72.86,371.32 72.86,371.36 72.88,371.44 72.89,371.54 72.92,371.67 72.95,371.83 72.98,372.01 73.02,372.22 73.08,372.44 73.14,372.68 73.2,372.92 73.28,373.17 73.37,373.43 73.47,373.68 73.57,373.94 73.69,374.19 73.82,374.44 73.96,374.69 74.11,374.93 74.27,375.17 74.45,375.4 74.64,375.62 74.83,375.84 75.05,376.06 75.27,376.27 75.51,376.47 75.77,376.67 76.03,376.86 76.31,377.05 76.61,377.24 76.92,377.42 77.25,377.59 77.59,377.76 77.94,377.93 78.31,378.1 78.7,378.26 79.1,378.41 79.52,378.56 79.96,378.71 80.41,378.86 80.88,379 81.37,379.14 81.87,379.28 82.39,379.41 82.93,379.54 83.49,379.67 84.06,379.8 84.65,379.92 85.26,380.05 85.89,380.17 86.54,380.28 87.21,380.4 87.9,380.51 88.6,380.62 89.33,380.73 90.07,380.84 90.84,380.95 91.62,381.05 92.43,381.15 93.26,381.25 94.1,381.35 94.97,381.45 95.86,381.55 96.77,381.64 97.7,381.73 98.65,381.83 99.62,381.92 100.62,382.01 101.63,382.09 102.67,382.18 103.73,382.27 104.82,382.35 105.92,382.44 107.05,382.52 108.2,382.6 109.38,382.68 110.57,382.76 111.8,382.84 113.04,382.92 114.31,382.99 115.6,383.07 116.91,383.14 118.25,383.22 119.62,383.29 121,383.36 122.42,383.43 123.85,383.5 125.31,383.57 126.8,383.64 128.31,383.71 129.85,383.78 131.41,383.84 132.99,383.91 134.61,383.98 136.24,384.04 137.91,384.1 139.6,384.17 141.31,384.23 143.06,384.29 144.82,384.35 146.62,384.42 148.44,384.48 150.29,384.54 152.16,384.59 154.06,384.65 155.99,384.71 157.95,384.77 159.93,384.83 161.94,384.88 163.98,384.94 166.05,384.99 168.14,385.05 170.27,385.1 172.42,385.16 174.59,385.21 176.8,385.26 179.04,385.32 181.3,385.37" fill="none" stroke="#4a5cc4" stroke-width="1.4" stroke-linejoin="round" stroke-linecap="round" />
<polyline points="55.2,411.25 70.33,411.25 70.4,376.62 73.48,362.86 73.49,362.86 73.49,362.89 73.5,362.94 73.51,363.03 73.52,363.16 73.55,363.32 73.57,363.52 73.61,363.75 73.65,364.01 73.71,364.28 73.76,364.58 73.83,364.88 73.91,365.2 74,365.52 74.09,365.83 74.2,366.15 74.32,366.47 74.44,366.78 74.58,367.09 74.73,367.39 74.89,367.68 75.07,367.97 75.26,368.25 75.45,368.53 75.67,368.8 75.89,369.06 76.13,369.31 76.38,369.56 76.65,369.81 76.92,370.04 77.22,370.27 77.53,370.5 77.85,370.72 78.19,370.93 78.54,371.14 78.91,371.34 79.3,371.54 79.7,371.74 80.11,371.93 80.55,372.11 81,372.3 81.46,372.48 81.95,372.65 82.45,372.82 82.97,372.99 83.5,373.15 84.05,373.32 84.63,373.47 85.21,373.63 85.82,373.78 86.45,373.93 87.09,374.08 87.76,374.22 88.44,374.36 89.14,374.5 89.86,374.64 90.6,374.77 91.37,374.9 92.15,375.03 92.95,375.16 93.77,375.29 94.61,375.41 95.47,375.54 96.35,375.66 97.26,375.77 98.18,375.89 99.13,376.01 100.1,376.12 101.09,376.23 102.1,376.34 103.13,376.45 104.18,376.56 105.26,376.66 106.36,376.77 107.48,376.87 108.63,376.97 109.8,377.07 110.99,377.17 112.2,377.27 113.44,377.37 114.7,377.46 115.98,377.56 117.29,377.65 118.62,377.74 119.97,377.83 121.35,377.92 122.76,378.01 124.19,378.1 125.64,378.19 127.12,378.28 128.62,378.36 130.15,378.45 131.7,378.53 133.28,378.61 134.88,378.69 136.51,378.77 138.16,378.85 139.84,378.93 141.55,379.01 143.28,379.09 145.04,379.17 146.82,379.24 148.63,379.32 150.47,379.39 152.33,379.47 154.22,379.54 156.14,379.61 158.09,379.68 160.06,379.76 162.06,379.83 164.08,379.9 166.14,379.97 168.22,380.03 170.33,380.1 172.47,380.17 174.63,380.24 176.83,380.3 179.05,380.37 181.3,380.43" fill="none" stroke="#3f8c70" stroke-width="1.4" stroke-linejoin="round" stroke-linecap="round" />
<polyline points="55.2,410.36 70.33,410.36 70.4,372.18 74.12,355.31 74.12,355.31 74.12,355.34 74.13,355.4 74.14,355.5 74.15,355.64 74.18,355.81 74.2,356.03 74.24,356.28 74.28,356.55 74.33,356.85 74.39,357.17 74.46,357.5 74.54,357.84 74.62,358.18 74.72,358.53 74.83,358.88 74.94,359.22 75.07,359.56 75.21,359.89 75.36,360.22 75.52,360.53 75.69,360.85 75.88,361.15 76.07,361.45 76.28,361.74 76.51,362.03 76.74,362.3 76.99,362.57 77.26,362.84 77.54,363.09 77.83,363.34 78.13,363.59 78.46,363.82 78.79,364.06 79.14,364.28 79.51,364.5 79.89,364.72 80.29,364.93 80.71,365.14 81.14,365.34 81.58,365.54 82.05,365.73 82.53,365.92 83.03,366.11 83.54,366.29 84.07,366.47 84.62,366.64 85.19,366.82 85.78,366.98 86.38,367.15 87,367.31 87.64,367.47 88.3,367.63 88.98,367.78 89.68,367.93 90.4,368.08 91.13,368.23 91.89,368.37 92.67,368.51 93.46,368.65 94.28,368.79 95.12,368.92 95.97,369.05 96.85,369.19 97.75,369.31 98.67,369.44 99.61,369.57 100.57,369.69 101.56,369.81 102.56,369.93 103.59,370.05 104.64,370.16 105.71,370.28 106.8,370.39 107.92,370.51 109.05,370.62 110.21,370.72 111.4,370.83 112.6,370.94 113.83,371.04 115.09,371.15 116.36,371.25 117.66,371.35 118.99,371.45 120.33,371.55 121.7,371.65 123.1,371.75 124.52,371.84 125.96,371.94 127.43,372.03 128.93,372.12 130.44,372.21 131.99,372.3 133.56,372.39 135.15,372.48 136.77,372.57 138.41,372.66 140.08,372.74 141.78,372.83 143.5,372.91 145.25,373 147.02,373.08 148.82,373.16 150.65,373.24 152.5,373.32 154.38,373.4 156.29,373.48 158.22,373.56 160.18,373.64 162.17,373.71 164.18,373.79 166.23,373.86 168.3,373.94 170.39,374.01 172.52,374.09 174.67,374.16 176.85,374.23 179.06,374.3 181.3,374.37" fill="none" stroke="#a892d4" stroke-width="1.4" stroke-linejoin="round" stroke-linecap="round" />
<text x="148.2" y="318.56" font-size="8.5" text-anchor="middle" font-weight="bold" fill="#111" font-family="'Liberation Sans', sans-serif"  stroke="#111" stroke-width="0.3">Pulse width</text>
<line x1="124.9" y1="323.6" x2="143.3" y2="323.6" stroke="#d4c650" stroke-width="1.6" />
<text x="145.7" y="326.66" font-size="8.5" text-anchor="start" font-weight="bold" fill="#111" font-family="'Liberation Sans', sans-serif"  stroke="#111" stroke-width="0.3">200ms</text>
<line x1="124.9" y1="334" x2="143.3" y2="334" stroke="#b47c64" stroke-width="1.6" />
<text x="145.7" y="337.06" font-size="8.5" text-anchor="start" font-weight="bold" fill="#111" font-family="'Liberation Sans', sans-serif"  stroke="#111" stroke-width="0.3">400ms</text>
<line x1="124.9" y1="344.4" x2="143.3" y2="344.4" stroke="#4a5cc4" stroke-width="1.6" />
<text x="145.7" y="347.46" font-size="8.5" text-anchor="start" font-weight="bold" fill="#111" font-family="'Liberation Sans', sans-serif"  stroke="#111" stroke-width="0.3">600ms</text>
<line x1="124.9" y1="354.8" x2="143.3" y2="354.8" stroke="#3f8c70" stroke-width="1.6" />
<text x="145.7" y="357.86" font-size="8.5" text-anchor="start" font-weight="bold" fill="#111" font-family="'Liberation Sans', sans-serif"  stroke="#111" stroke-width="0.3">800ms</text>
<line x1="124.9" y1="365.2" x2="143.3" y2="365.2" stroke="#a892d4" stroke-width="1.6" />
<text x="145.7" y="368.26" font-size="8.5" text-anchor="start" font-weight="bold" fill="#111" font-family="'Liberation Sans', sans-serif"  stroke="#111" stroke-width="0.3">1000ms</text>
<rect x="55.1" y="310" width="126.1" height="102.1" fill="none" stroke="#222" stroke-width="1.3" />
<line x1="52.6" y1="407.7" x2="55.1" y2="407.7" stroke="#222" stroke-width="1" />
<text x="52.2" y="410.76" font-size="8.5" text-anchor="end" font-weight="bold" fill="#111" font-family="'Liberation Sans', sans-serif"  stroke="#111" stroke-width="0.3">8</text>
<line x1="52.6" y1="398.82" x2="55.1" y2="398.82" stroke="#222" stroke-width="1" />
<text x="52.2" y="401.88" font-size="8.5" text-anchor="end" font-weight="bold" fill="#111" font-family="'Liberation Sans', sans-serif"  stroke="#111" stroke-width="0.3">10</text>
<line x1="52.6" y1="389.94" x2="55.1" y2="389.94" stroke="#222" stroke-width="1" />
<text x="52.2" y="393" font-size="8.5" text-anchor="end" font-weight="bold" fill="#111" font-family="'Liberation Sans', sans-serif"  stroke="#111" stroke-width="0.3">12</text>
<line x1="52.6" y1="381.06" x2="55.1" y2="381.06" stroke="#222" stroke-width="1" />
<text x="52.2" y="384.12" font-size="8.5" text-anchor="end" font-weight="bold" fill="#111" font-family="'Liberation Sans', sans-serif"  stroke="#111" stroke-width="0.3">14</text>
<line x1="52.6" y1="372.18" x2="55.1" y2="372.18" stroke="#222" stroke-width="1" />
<text x="52.2" y="375.24" font-size="8.5" text-anchor="end" font-weight="bold" fill="#111" font-family="'Liberation Sans', sans-serif"  stroke="#111" stroke-width="0.3">16</text>
<line x1="52.6" y1="363.3" x2="55.1" y2="363.3" stroke="#222" stroke-width="1" />
<text x="52.2" y="366.36" font-size="8.5" text-anchor="end" font-weight="bold" fill="#111" font-family="'Liberation Sans', sans-serif"  stroke="#111" stroke-width="0.3">18</text>
<line x1="52.6" y1="354.42" x2="55.1" y2="354.42" stroke="#222" stroke-width="1" />
<text x="52.2" y="357.48" font-size="8.5" text-anchor="end" font-weight="bold" fill="#111" font-family="'Liberation Sans', sans-serif"  stroke="#111" stroke-width="0.3">20</text>
<line x1="52.6" y1="345.54" x2="55.1" y2="345.54" stroke="#222" stroke-width="1" />
<text x="52.2" y="348.6" font-size="8.5" text-anchor="end" font-weight="bold" fill="#111" font-family="'Liberation Sans', sans-serif"  stroke="#111" stroke-width="0.3">22</text>
<line x1="52.6" y1="336.66" x2="55.1" y2="336.66" stroke="#222" stroke-width="1" />
<text x="52.2" y="339.72" font-size="8.5" text-anchor="end" font-weight="bold" fill="#111" font-family="'Liberation Sans', sans-serif"  stroke="#111" stroke-width="0.3">24</text>
<line x1="52.6" y1="327.78" x2="55.1" y2="327.78" stroke="#222" stroke-width="1" />
<text x="52.2" y="330.84" font-size="8.5" text-anchor="end" font-weight="bold" fill="#111" font-family="'Liberation Sans', sans-serif"  stroke="#111" stroke-width="0.3">26</text>
<line x1="52.6" y1="318.9" x2="55.1" y2="318.9" stroke="#222" stroke-width="1" />
<text x="52.2" y="321.96" font-size="8.5" text-anchor="end" font-weight="bold" fill="#111" font-family="'Liberation Sans', sans-serif"  stroke="#111" stroke-width="0.3">28</text>
<line x1="52.6" y1="310.02" x2="55.1" y2="310.02" stroke="#222" stroke-width="1" />
<text x="52.2" y="313.08" font-size="8.5" text-anchor="end" font-weight="bold" fill="#111" font-family="'Liberation Sans', sans-serif"  stroke="#111" stroke-width="0.3">30</text>
<line x1="53.6" y1="403.26" x2="55.1" y2="403.26" stroke="#222" stroke-width="0.8" />
<line x1="53.6" y1="394.38" x2="55.1" y2="394.38" stroke="#222" stroke-width="0.8" />
<line x1="53.6" y1="385.5" x2="55.1" y2="385.5" stroke="#222" stroke-width="0.8" />
<line x1="53.6" y1="376.62" x2="55.1" y2="376.62" stroke="#222" stroke-width="0.8" />
<line x1="53.6" y1="367.74" x2="55.1" y2="367.74" stroke="#222" stroke-width="0.8" />
<line x1="53.6" y1="358.86" x2="55.1" y2="358.86" stroke="#222" stroke-width="0.8" />
<line x1="53.6" y1="349.98" x2="55.1" y2="349.98" stroke="#222" stroke-width="0.8" />
<line x1="53.6" y1="341.1" x2="55.1" y2="341.1" stroke="#222" stroke-width="0.8" />
<line x1="53.6" y1="332.22" x2="55.1" y2="332.22" stroke="#222" stroke-width="0.8" />
<line x1="53.6" y1="323.34" x2="55.1" y2="323.34" stroke="#222" stroke-width="0.8" />
<line x1="53.6" y1="314.46" x2="55.1" y2="314.46" stroke="#222" stroke-width="0.8" />
<line x1="55.2" y1="412.1" x2="55.2" y2="414.6" stroke="#222" stroke-width="1" />
<text x="55.2" y="422.46" font-size="8.5" text-anchor="middle" font-weight="bold" fill="#111" font-family="'Liberation Sans', sans-serif"  stroke="#111" stroke-width="0.3">0</text>
<line x1="70.96" y1="412.1" x2="70.96" y2="414.6" stroke="#222" stroke-width="1" />
<text x="70.96" y="422.46" font-size="8.5" text-anchor="middle" font-weight="bold" fill="#111" font-family="'Liberation Sans', sans-serif"  stroke="#111" stroke-width="0.3">5</text>
<line x1="86.72" y1="412.1" x2="86.72" y2="414.6" stroke="#222" stroke-width="1" />
<text x="86.72" y="422.46" font-size="8.5" text-anchor="middle" font-weight="bold" fill="#111" font-family="'Liberation Sans', sans-serif"  stroke="#111" stroke-width="0.3">10</text>
<line x1="102.49" y1="412.1" x2="102.49" y2="414.6" stroke="#222" stroke-width="1" />
<text x="102.49" y="422.46" font-size="8.5" text-anchor="middle" font-weight="bold" fill="#111" font-family="'Liberation Sans', sans-serif"  stroke="#111" stroke-width="0.3">15</text>
<line x1="118.25" y1="412.1" x2="118.25" y2="414.6" stroke="#222" stroke-width="1" />
<text x="118.25" y="422.46" font-size="8.5" text-anchor="middle" font-weight="bold" fill="#111" font-family="'Liberation Sans', sans-serif"  stroke="#111" stroke-width="0.3">20</text>
<line x1="134.01" y1="412.1" x2="134.01" y2="414.6" stroke="#222" stroke-width="1" />
<text x="134.01" y="422.46" font-size="8.5" text-anchor="middle" font-weight="bold" fill="#111" font-family="'Liberation Sans', sans-serif"  stroke="#111" stroke-width="0.3">25</text>
<line x1="149.78" y1="412.1" x2="149.78" y2="414.6" stroke="#222" stroke-width="1" />
<text x="149.78" y="422.46" font-size="8.5" text-anchor="middle" font-weight="bold" fill="#111" font-family="'Liberation Sans', sans-serif"  stroke="#111" stroke-width="0.3">30</text>
<line x1="165.54" y1="412.1" x2="165.54" y2="414.6" stroke="#222" stroke-width="1" />
<text x="165.54" y="422.46" font-size="8.5" text-anchor="middle" font-weight="bold" fill="#111" font-family="'Liberation Sans', sans-serif"  stroke="#111" stroke-width="0.3">35</text>
<line x1="181.3" y1="412.1" x2="181.3" y2="414.6" stroke="#222" stroke-width="1" />
<text x="181.3" y="422.46" font-size="8.5" text-anchor="middle" font-weight="bold" fill="#111" font-family="'Liberation Sans', sans-serif"  stroke="#111" stroke-width="0.3">40</text>
<line x1="63.08" y1="412.1" x2="63.08" y2="413.6" stroke="#222" stroke-width="0.8" />
<line x1="78.84" y1="412.1" x2="78.84" y2="413.6" stroke="#222" stroke-width="0.8" />
<line x1="94.61" y1="412.1" x2="94.61" y2="413.6" stroke="#222" stroke-width="0.8" />
<line x1="110.37" y1="412.1" x2="110.37" y2="413.6" stroke="#222" stroke-width="0.8" />
<line x1="126.13" y1="412.1" x2="126.13" y2="413.6" stroke="#222" stroke-width="0.8" />
<line x1="141.89" y1="412.1" x2="141.89" y2="413.6" stroke="#222" stroke-width="0.8" />
<line x1="157.66" y1="412.1" x2="157.66" y2="413.6" stroke="#222" stroke-width="0.8" />
<line x1="173.42" y1="412.1" x2="173.42" y2="413.6" stroke="#222" stroke-width="0.8" />
<text x="0" y="0" transform="translate(39.34,361) rotate(-90)" font-size="11.5" text-anchor="middle" font-weight="bold" fill="#111" stroke="#111" stroke-width="0.3" font-family="'Liberation Sans', sans-serif">EPSC(nA)</text>
<text x="119" y="439.14" font-size="11.5" text-anchor="middle" font-weight="bold" fill="#111" font-family="'Liberation Sans', sans-serif"  stroke="#111" stroke-width="0.3">Time(s)</text>
<text x="190.5" y="309" font-size="12" text-anchor="start" font-weight="normal" fill="#333" font-family="'Liberation Serif', serif" >(f)</text>
<polyline points="229,410.6 236.39,410.6 236.64,351.53 236.93,348.79 238.91,345.89 240.78,347.68 242.76,344.07 244.64,345.55 246.62,341.94 248.49,343.45 250.47,339.89 252.35,341.41 254.33,337.85 254.39,337.91 254.56,338.06 254.8,338.26 255.12,338.52 255.51,338.81 255.97,339.12 256.5,339.44 257.09,339.75 257.74,340.06 258.46,340.35 259.23,340.62 260.06,340.86 260.95,341.08 261.89,341.27 262.89,341.43 263.95,341.57 265.06,341.68 266.22,341.78 267.44,341.86 268.7,341.92 270.02,341.97 271.4,342 272.82,342.03 274.29,342.06 275.81,342.07 277.38,342.08 279,342.09 280.67,342.1 282.39,342.1 284.16,342.11 285.97,342.11 287.83,342.11 289.74,342.11 291.69,342.11 293.69,342.11 295.74,342.11 297.84,342.11 299.98,342.12 302.16,342.12 304.39,342.12 306.67,342.12 308.99,342.12 311.35,342.12 313.76,342.12 316.21,342.12 318.71,342.12 321.25,342.12 323.84,342.12 326.47,342.12 329.14,342.12 331.85,342.12 334.61,342.12 337.41,342.12 340.25,342.12 343.14,342.12 346.07,342.12 349.03,342.12 352.05,342.12 355.1,342.12" fill="none" stroke="#ccc262" stroke-width="1.4" stroke-linejoin="round" stroke-linecap="round" />
<polyline points="229,412.03 236.39,412.03 236.64,351.53 236.93,348.79 238.91,345.89 240.78,347.68 242.76,344.07 244.64,345.55 246.62,341.94 248.49,343.45 250.47,339.89 252.35,341.41 254.33,337.85 256.2,339.38 258.18,335.87 260.06,337.65 262.04,334.38 263.91,336.16 265.89,332.88 267.77,334.67 269.75,331.39 271.62,333.18 273.6,329.9 273.66,329.95 273.79,330.07 273.99,330.25 274.25,330.48 274.56,330.73 274.93,331.01 275.36,331.31 275.84,331.61 276.37,331.91 276.94,332.2 277.57,332.48 278.24,332.73 278.96,332.97 279.72,333.19 280.53,333.38 281.38,333.55 282.28,333.7 283.22,333.83 284.2,333.94 285.23,334.03 286.3,334.11 287.41,334.17 288.56,334.23 289.75,334.27 290.98,334.3 292.25,334.33 293.56,334.35 294.91,334.36 296.3,334.38 297.73,334.38 299.19,334.39 300.7,334.4 302.24,334.4 303.82,334.4 305.44,334.41 307.1,334.41 308.79,334.41 310.52,334.41 312.29,334.41 314.09,334.41 315.93,334.41 317.81,334.41 319.72,334.41 321.67,334.41 323.65,334.41 325.67,334.41 327.73,334.41 329.82,334.41 331.94,334.41 334.1,334.41 336.3,334.41 338.53,334.41 340.79,334.41 343.09,334.41 345.43,334.41 347.79,334.41 350.19,334.41 352.63,334.41 355.1,334.41" fill="none" stroke="#ac7a60" stroke-width="1.4" stroke-linejoin="round" stroke-linecap="round" />
<polyline points="229,412.03 236.39,412.03 236.64,351.53 236.93,348.79 238.91,345.89 240.78,347.68 242.76,344.07 244.64,345.55 246.62,341.94 248.49,343.45 250.47,339.89 252.35,341.41 254.33,337.85 256.2,339.38 258.18,335.87 260.06,337.65 262.04,334.38 263.91,336.16 265.89,332.88 267.77,334.67 269.75,331.39 271.62,333.18 273.6,329.9 275.48,331.61 277.46,328.24 279.33,329.93 281.31,326.55 283.19,328.24 285.17,324.87 287.04,326.56 289.02,323.18 290.9,324.87 292.88,321.5 292.92,321.53 293.02,321.6 293.17,321.71 293.37,321.84 293.61,322 293.9,322.18 294.22,322.37 294.58,322.56 294.99,322.77 295.43,322.97 295.9,323.16 296.42,323.35 296.97,323.53 297.55,323.7 298.17,323.86 298.82,324.01 299.5,324.14 300.22,324.27 300.97,324.37 301.76,324.47 302.57,324.55 303.42,324.63 304.29,324.69 305.2,324.74 306.14,324.79 307.11,324.83 308.11,324.86 309.15,324.89 310.21,324.91 311.3,324.93 312.42,324.94 313.56,324.95 314.74,324.96 315.95,324.97 317.19,324.97 318.45,324.98 319.74,324.98 321.06,324.99 322.41,324.99 323.79,324.99 325.19,324.99 326.63,324.99 328.09,324.99 329.57,324.99 331.09,324.99 332.63,324.99 334.2,324.99 335.8,324.99 337.42,324.99 339.07,324.99 340.75,324.99 342.45,324.99 344.18,324.99 345.93,324.99 347.71,324.99 349.52,324.99 351.36,324.99 353.21,324.99 355.1,324.99" fill="none" stroke="#4a60c0" stroke-width="1.4" stroke-linejoin="round" stroke-linecap="round" />
<polyline points="229,409.46 236.39,409.46 236.64,351.53 236.93,348.79 238.91,345.89 240.78,347.68 242.76,344.07 244.64,345.55 246.62,341.94 248.49,343.45 250.47,339.89 252.35,341.41 254.33,337.85 256.2,339.38 258.18,335.87 260.06,337.65 262.04,334.38 263.91,336.16 265.89,332.88 267.77,334.67 269.75,331.39 271.62,333.18 273.6,329.9 275.48,331.61 277.46,328.24 279.33,329.93 281.31,326.55 283.19,328.24 285.17,324.87 287.04,326.56 289.02,323.18 290.9,324.87 292.88,321.5 294.75,323.19 296.73,319.92 298.61,321.71 300.59,318.45 302.46,320.25 304.44,316.98 306.32,318.78 308.3,315.52 310.17,317.32 312.15,314.05 312.18,314.09 312.25,314.18 312.36,314.31 312.49,314.48 312.66,314.68 312.86,314.9 313.08,315.15 313.33,315.41 313.61,315.68 313.91,315.96 314.24,316.24 314.6,316.53 314.98,316.81 315.38,317.08 315.8,317.35 316.25,317.61 316.73,317.85 317.22,318.08 317.74,318.3 318.28,318.5 318.84,318.68 319.43,318.85 320.03,319.01 320.66,319.15 321.31,319.28 321.98,319.4 322.67,319.5 323.38,319.59 324.11,319.67 324.87,319.74 325.64,319.8 326.43,319.85 327.24,319.9 328.08,319.94 328.93,319.97 329.8,320 330.7,320.03 331.61,320.05 332.54,320.06 333.49,320.08 334.46,320.09 335.45,320.1 336.46,320.11 337.48,320.12 338.53,320.12 339.59,320.13 340.68,320.13 341.78,320.13 342.9,320.13 344.04,320.14 345.19,320.14 346.37,320.14 347.56,320.14 348.77,320.14 350,320.14 351.25,320.14 352.52,320.14 353.8,320.14 355.1,320.14" fill="none" stroke="#4c9a40" stroke-width="1.4" stroke-linejoin="round" stroke-linecap="round" />
<text x="307" y="363.26" font-size="8.5" text-anchor="middle" font-weight="bold" fill="#111" font-family="'Liberation Sans', sans-serif"  stroke="#111" stroke-width="0.3">Number of Light Pulse</text>
<line x1="261.8" y1="372.4" x2="281.5" y2="372.4" stroke="#ccc262" stroke-width="1.6" />
<text x="284" y="375.46" font-size="8.5" text-anchor="start" font-weight="bold" fill="#111" font-family="'Liberation Sans', sans-serif"  stroke="#111" stroke-width="0.3">5</text>
<line x1="261.8" y1="383.3" x2="281.5" y2="383.3" stroke="#ac7a60" stroke-width="1.6" />
<text x="284" y="386.36" font-size="8.5" text-anchor="start" font-weight="bold" fill="#111" font-family="'Liberation Sans', sans-serif"  stroke="#111" stroke-width="0.3">10</text>
<line x1="261.8" y1="394.2" x2="281.5" y2="394.2" stroke="#4a60c0" stroke-width="1.6" />
<text x="284" y="397.26" font-size="8.5" text-anchor="start" font-weight="bold" fill="#111" font-family="'Liberation Sans', sans-serif"  stroke="#111" stroke-width="0.3">15</text>
<line x1="261.8" y1="405.1" x2="281.5" y2="405.1" stroke="#4c9a40" stroke-width="1.6" />
<text x="284" y="408.16" font-size="8.5" text-anchor="start" font-weight="bold" fill="#111" font-family="'Liberation Sans', sans-serif"  stroke="#111" stroke-width="0.3">20</text>
<rect x="228.9" y="309.3" width="126.1" height="102.8" fill="none" stroke="#222" stroke-width="1.3" />
<line x1="226.4" y1="394.91" x2="228.9" y2="394.91" stroke="#222" stroke-width="1" />
<text x="225.8" y="397.97" font-size="8.5" text-anchor="end" font-weight="bold" fill="#111" font-family="'Liberation Sans', sans-serif"  stroke="#111" stroke-width="0.3">10</text>
<line x1="226.4" y1="366.37" x2="228.9" y2="366.37" stroke="#222" stroke-width="1" />
<text x="225.8" y="369.43" font-size="8.5" text-anchor="end" font-weight="bold" fill="#111" font-family="'Liberation Sans', sans-serif"  stroke="#111" stroke-width="0.3">15</text>
<line x1="226.4" y1="337.84" x2="228.9" y2="337.84" stroke="#222" stroke-width="1" />
<text x="225.8" y="340.9" font-size="8.5" text-anchor="end" font-weight="bold" fill="#111" font-family="'Liberation Sans', sans-serif"  stroke="#111" stroke-width="0.3">20</text>
<line x1="226.4" y1="309.3" x2="228.9" y2="309.3" stroke="#222" stroke-width="1" />
<text x="225.8" y="312.36" font-size="8.5" text-anchor="end" font-weight="bold" fill="#111" font-family="'Liberation Sans', sans-serif"  stroke="#111" stroke-width="0.3">25</text>
<line x1="227.4" y1="409.17" x2="228.9" y2="409.17" stroke="#222" stroke-width="0.8" />
<line x1="227.4" y1="380.64" x2="228.9" y2="380.64" stroke="#222" stroke-width="0.8" />
<line x1="227.4" y1="352.1" x2="228.9" y2="352.1" stroke="#222" stroke-width="0.8" />
<line x1="227.4" y1="323.57" x2="228.9" y2="323.57" stroke="#222" stroke-width="0.8" />
<line x1="229" y1="412.1" x2="229" y2="414.6" stroke="#222" stroke-width="1" />
<text x="229" y="422.66" font-size="8.5" text-anchor="middle" font-weight="bold" fill="#111" font-family="'Liberation Sans', sans-serif"  stroke="#111" stroke-width="0.3">0</text>
<line x1="247.01" y1="412.1" x2="247.01" y2="414.6" stroke="#222" stroke-width="1" />
<text x="247.01" y="422.66" font-size="8.5" text-anchor="middle" font-weight="bold" fill="#111" font-family="'Liberation Sans', sans-serif"  stroke="#111" stroke-width="0.3">5</text>
<line x1="265.03" y1="412.1" x2="265.03" y2="414.6" stroke="#222" stroke-width="1" />
<text x="265.03" y="422.66" font-size="8.5" text-anchor="middle" font-weight="bold" fill="#111" font-family="'Liberation Sans', sans-serif"  stroke="#111" stroke-width="0.3">10</text>
<line x1="283.04" y1="412.1" x2="283.04" y2="414.6" stroke="#222" stroke-width="1" />
<text x="283.04" y="422.66" font-size="8.5" text-anchor="middle" font-weight="bold" fill="#111" font-family="'Liberation Sans', sans-serif"  stroke="#111" stroke-width="0.3">15</text>
<line x1="301.06" y1="412.1" x2="301.06" y2="414.6" stroke="#222" stroke-width="1" />
<text x="301.06" y="422.66" font-size="8.5" text-anchor="middle" font-weight="bold" fill="#111" font-family="'Liberation Sans', sans-serif"  stroke="#111" stroke-width="0.3">20</text>
<line x1="319.07" y1="412.1" x2="319.07" y2="414.6" stroke="#222" stroke-width="1" />
<text x="319.07" y="422.66" font-size="8.5" text-anchor="middle" font-weight="bold" fill="#111" font-family="'Liberation Sans', sans-serif"  stroke="#111" stroke-width="0.3">25</text>
<line x1="337.09" y1="412.1" x2="337.09" y2="414.6" stroke="#222" stroke-width="1" />
<text x="337.09" y="422.66" font-size="8.5" text-anchor="middle" font-weight="bold" fill="#111" font-family="'Liberation Sans', sans-serif"  stroke="#111" stroke-width="0.3">30</text>
<line x1="355.1" y1="412.1" x2="355.1" y2="414.6" stroke="#222" stroke-width="1" />
<text x="355.1" y="422.66" font-size="8.5" text-anchor="middle" font-weight="bold" fill="#111" font-family="'Liberation Sans', sans-serif"  stroke="#111" stroke-width="0.3">35</text>
<line x1="238.01" y1="412.1" x2="238.01" y2="413.6" stroke="#222" stroke-width="0.8" />
<line x1="256.02" y1="412.1" x2="256.02" y2="413.6" stroke="#222" stroke-width="0.8" />
<line x1="274.04" y1="412.1" x2="274.04" y2="413.6" stroke="#222" stroke-width="0.8" />
<line x1="292.05" y1="412.1" x2="292.05" y2="413.6" stroke="#222" stroke-width="0.8" />
<line x1="310.06" y1="412.1" x2="310.06" y2="413.6" stroke="#222" stroke-width="0.8" />
<line x1="328.08" y1="412.1" x2="328.08" y2="413.6" stroke="#222" stroke-width="0.8" />
<line x1="346.09" y1="412.1" x2="346.09" y2="413.6" stroke="#222" stroke-width="0.8" />
<text x="0" y="0" transform="translate(212.64,360) rotate(-90)" font-size="11.5" text-anchor="middle" font-weight="bold" fill="#111" stroke="#111" stroke-width="0.3" font-family="'Liberation Sans', sans-serif">EPSC(nA)</text>
<text x="292.2" y="438.14" font-size="11.5" text-anchor="middle" font-weight="bold" fill="#111" font-family="'Liberation Sans', sans-serif"  stroke="#111" stroke-width="0.3">Time(s)</text>
<text x="368" y="308" font-size="12" text-anchor="start" font-weight="normal" fill="#333" font-family="'Liberation Serif', serif" >(g)</text>
<polyline points="404.2,404.95 417.3,404.95 418.41,379.7 419.99,359.36 420.1,359.77 420.26,360.33 420.44,361.01 420.64,361.74 420.86,362.49 421.09,363.22 421.33,363.87 421.57,364.41 421.79,364.83 421.99,365.19 422.2,365.5 422.41,365.77 422.67,366.01 422.96,366.24 423.33,366.48 423.78,366.74 424.29,367 424.85,367.25 425.46,367.49 426.12,367.73 426.85,367.97 427.65,368.2 428.51,368.44 429.46,368.68 430.48,368.92 431.56,369.17 432.7,369.42 433.92,369.67 435.21,369.92 436.58,370.16 438.03,370.39 439.56,370.62 441.15,370.82 442.78,371.02 444.48,371.2 446.25,371.38 448.14,371.56 450.17,371.75 452.35,371.95 454.72,372.17 457.31,372.41 460.11,372.66 463.08,372.93 466.19,373.2 469.37,373.48 472.61,373.75 475.84,374.03 479.03,374.3 482.22,374.57 485.47,374.84 488.76,375.11 492.08,375.38 495.4,375.65 498.71,375.92 502,376.18 505.24,376.44 508.62,376.7 512.21,376.98 515.89,377.26 519.51,377.54 522.92,377.8 525.98,378.03 528.56,378.23 530.5,378.38" fill="none" stroke="#d8d058" stroke-width="1.4" stroke-linejoin="round" stroke-linecap="round" />
<polyline points="404.2,404.95 417.3,404.95 418.41,371.7 419.99,344.81 420.1,345.43 420.26,346.28 420.44,347.29 420.64,348.4 420.86,349.54 421.09,350.62 421.33,351.6 421.57,352.38 421.79,352.99 421.99,353.49 422.2,353.9 422.41,354.26 422.67,354.57 422.96,354.87 423.33,355.16 423.78,355.48 424.29,355.81 424.85,356.11 425.46,356.4 426.12,356.67 426.85,356.94 427.65,357.22 428.51,357.51 429.46,357.81 430.48,358.13 431.56,358.46 432.7,358.8 433.92,359.15 435.21,359.49 436.58,359.84 438.03,360.19 439.56,360.53 441.15,360.86 442.78,361.18 444.48,361.5 446.25,361.81 448.14,362.14 450.17,362.48 452.35,362.85 454.72,363.24 457.31,363.68 460.11,364.15 463.08,364.65 466.19,365.16 469.37,365.67 472.61,366.18 475.84,366.67 479.03,367.12 482.22,367.55 485.47,367.95 488.76,368.34 492.08,368.72 495.4,369.1 498.71,369.47 502,369.85 505.24,370.23 508.62,370.64 512.21,371.08 515.89,371.53 519.51,371.97 522.92,372.4 525.98,372.77 528.56,373.09 530.5,373.33" fill="none" stroke="#b08466" stroke-width="1.4" stroke-linejoin="round" stroke-linecap="round" />
<polyline points="404.2,404.95 417.3,404.95 418.41,364.13 419.99,331.04 420.1,331.88 420.26,333.03 420.44,334.41 420.64,335.91 420.86,337.47 421.09,338.98 421.33,340.36 421.57,341.52 421.79,342.48 421.99,343.35 422.2,344.14 422.41,344.86 422.67,345.53 422.96,346.15 423.33,346.75 423.78,347.34 424.29,347.89 424.85,348.38 425.46,348.83 426.12,349.25 426.85,349.65 427.65,350.04 428.51,350.43 429.46,350.83 430.48,351.23 431.56,351.63 432.7,352.02 433.92,352.4 435.21,352.79 436.58,353.17 438.03,353.55 439.56,353.93 441.15,354.31 442.78,354.69 444.48,355.06 446.25,355.44 448.14,355.82 450.17,356.21 452.35,356.61 454.72,357.04 457.31,357.49 460.11,357.96 463.08,358.45 466.19,358.95 469.37,359.46 472.61,359.96 475.84,360.44 479.03,360.92 482.22,361.38 485.47,361.83 488.76,362.29 492.08,362.73 495.4,363.17 498.71,363.6 502,364.01 505.24,364.41 508.62,364.8 512.21,365.21 515.89,365.6 519.51,365.98 522.92,366.34 525.98,366.65 528.56,366.92 530.5,367.12" fill="none" stroke="#4a58c0" stroke-width="1.4" stroke-linejoin="round" stroke-linecap="round" />
<polyline points="404.2,404.95 417.3,404.95 418.41,353.46 419.99,311.64 420.08,313.05 420.18,315 420.31,317.33 420.46,319.88 420.63,322.5 420.82,325.01 421.02,327.26 421.25,329.1 421.48,330.55 421.72,331.79 421.97,332.84 422.24,333.76 422.54,334.58 422.89,335.34 423.3,336.09 423.78,336.86 424.31,337.63 424.87,338.33 425.48,338.98 426.14,339.6 426.87,340.19 427.65,340.76 428.52,341.33 429.46,341.9 430.48,342.47 431.56,343.03 432.7,343.56 433.92,344.09 435.21,344.61 436.58,345.12 438.03,345.64 439.56,346.17 441.15,346.7 442.78,347.22 444.48,347.74 446.25,348.26 448.14,348.78 450.17,349.32 452.35,349.87 454.72,350.44 457.31,351.04 460.11,351.67 463.08,352.33 466.19,352.99 469.37,353.64 472.61,354.29 475.84,354.9 479.03,355.48 482.22,356.03 485.47,356.54 488.76,357.04 492.08,357.52 495.4,357.99 498.71,358.45 502,358.91 505.24,359.36 508.62,359.84 512.21,360.35 515.89,360.86 519.51,361.35 522.92,361.82 525.98,362.24 528.56,362.59 530.5,362.86" fill="none" stroke="#3a8a70" stroke-width="1.4" stroke-linejoin="round" stroke-linecap="round" />
<text x="499.5" y="319.06" font-size="8.5" text-anchor="middle" font-weight="bold" fill="#111" font-family="'Liberation Sans', sans-serif"  stroke="#111" stroke-width="0.3">Light Intensity</text>
<line x1="485.7" y1="323.3" x2="505.5" y2="323.3" stroke="#d8d058" stroke-width="1.6" />
<text x="507" y="326.36" font-size="8.5" text-anchor="start" font-weight="bold" fill="#111" font-family="'Liberation Sans', sans-serif"  stroke="#111" stroke-width="0.3">20%</text>
<line x1="485.7" y1="333.75" x2="505.5" y2="333.75" stroke="#b08466" stroke-width="1.6" />
<text x="507" y="336.81" font-size="8.5" text-anchor="start" font-weight="bold" fill="#111" font-family="'Liberation Sans', sans-serif"  stroke="#111" stroke-width="0.3">40%</text>
<line x1="485.7" y1="344.2" x2="505.5" y2="344.2" stroke="#4a58c0" stroke-width="1.6" />
<text x="507" y="347.26" font-size="8.5" text-anchor="start" font-weight="bold" fill="#111" font-family="'Liberation Sans', sans-serif"  stroke="#111" stroke-width="0.3">60%</text>
<line x1="485.7" y1="354.65" x2="505.5" y2="354.65" stroke="#3a8a70" stroke-width="1.6" />
<text x="507" y="357.71" font-size="8.5" text-anchor="start" font-weight="bold" fill="#111" font-family="'Liberation Sans', sans-serif"  stroke="#111" stroke-width="0.3">80%</text>
<rect x="404.4" y="309.6" width="126.3" height="100.7" fill="none" stroke="#222" stroke-width="1.3" />
<line x1="401.9" y1="402.82" x2="404.4" y2="402.82" stroke="#222" stroke-width="1" />
<text x="401.2" y="405.88" font-size="8.5" text-anchor="end" font-weight="bold" fill="#111" font-family="'Liberation Sans', sans-serif"  stroke="#111" stroke-width="0.3">8</text>
<line x1="401.9" y1="387.3" x2="404.4" y2="387.3" stroke="#222" stroke-width="1" />
<text x="401.2" y="390.36" font-size="8.5" text-anchor="end" font-weight="bold" fill="#111" font-family="'Liberation Sans', sans-serif"  stroke="#111" stroke-width="0.3">12</text>
<line x1="401.9" y1="371.78" x2="404.4" y2="371.78" stroke="#222" stroke-width="1" />
<text x="401.2" y="374.84" font-size="8.5" text-anchor="end" font-weight="bold" fill="#111" font-family="'Liberation Sans', sans-serif"  stroke="#111" stroke-width="0.3">16</text>
<line x1="401.9" y1="356.26" x2="404.4" y2="356.26" stroke="#222" stroke-width="1" />
<text x="401.2" y="359.32" font-size="8.5" text-anchor="end" font-weight="bold" fill="#111" font-family="'Liberation Sans', sans-serif"  stroke="#111" stroke-width="0.3">20</text>
<line x1="401.9" y1="340.74" x2="404.4" y2="340.74" stroke="#222" stroke-width="1" />
<text x="401.2" y="343.8" font-size="8.5" text-anchor="end" font-weight="bold" fill="#111" font-family="'Liberation Sans', sans-serif"  stroke="#111" stroke-width="0.3">24</text>
<line x1="401.9" y1="325.22" x2="404.4" y2="325.22" stroke="#222" stroke-width="1" />
<text x="401.2" y="328.28" font-size="8.5" text-anchor="end" font-weight="bold" fill="#111" font-family="'Liberation Sans', sans-serif"  stroke="#111" stroke-width="0.3">28</text>
<line x1="401.9" y1="309.7" x2="404.4" y2="309.7" stroke="#222" stroke-width="1" />
<text x="401.2" y="312.76" font-size="8.5" text-anchor="end" font-weight="bold" fill="#111" font-family="'Liberation Sans', sans-serif"  stroke="#111" stroke-width="0.3">32</text>
<line x1="402.9" y1="395.06" x2="404.4" y2="395.06" stroke="#222" stroke-width="0.8" />
<line x1="402.9" y1="379.54" x2="404.4" y2="379.54" stroke="#222" stroke-width="0.8" />
<line x1="402.9" y1="364.02" x2="404.4" y2="364.02" stroke="#222" stroke-width="0.8" />
<line x1="402.9" y1="348.5" x2="404.4" y2="348.5" stroke="#222" stroke-width="0.8" />
<line x1="402.9" y1="332.98" x2="404.4" y2="332.98" stroke="#222" stroke-width="0.8" />
<line x1="402.9" y1="317.46" x2="404.4" y2="317.46" stroke="#222" stroke-width="0.8" />
<line x1="404.2" y1="410.3" x2="404.2" y2="412.8" stroke="#222" stroke-width="1" />
<text x="404.2" y="420.56" font-size="8.5" text-anchor="middle" font-weight="bold" fill="#111" font-family="'Liberation Sans', sans-serif"  stroke="#111" stroke-width="0.3">0</text>
<line x1="419.99" y1="410.3" x2="419.99" y2="412.8" stroke="#222" stroke-width="1" />
<text x="419.99" y="420.56" font-size="8.5" text-anchor="middle" font-weight="bold" fill="#111" font-family="'Liberation Sans', sans-serif"  stroke="#111" stroke-width="0.3">5</text>
<line x1="435.77" y1="410.3" x2="435.77" y2="412.8" stroke="#222" stroke-width="1" />
<text x="435.77" y="420.56" font-size="8.5" text-anchor="middle" font-weight="bold" fill="#111" font-family="'Liberation Sans', sans-serif"  stroke="#111" stroke-width="0.3">10</text>
<line x1="451.56" y1="410.3" x2="451.56" y2="412.8" stroke="#222" stroke-width="1" />
<text x="451.56" y="420.56" font-size="8.5" text-anchor="middle" font-weight="bold" fill="#111" font-family="'Liberation Sans', sans-serif"  stroke="#111" stroke-width="0.3">15</text>
<line x1="467.35" y1="410.3" x2="467.35" y2="412.8" stroke="#222" stroke-width="1" />
<text x="467.35" y="420.56" font-size="8.5" text-anchor="middle" font-weight="bold" fill="#111" font-family="'Liberation Sans', sans-serif"  stroke="#111" stroke-width="0.3">20</text>
<line x1="483.14" y1="410.3" x2="483.14" y2="412.8" stroke="#222" stroke-width="1" />
<text x="483.14" y="420.56" font-size="8.5" text-anchor="middle" font-weight="bold" fill="#111" font-family="'Liberation Sans', sans-serif"  stroke="#111" stroke-width="0.3">25</text>
<line x1="498.93" y1="410.3" x2="498.93" y2="412.8" stroke="#222" stroke-width="1" />
<text x="498.93" y="420.56" font-size="8.5" text-anchor="middle" font-weight="bold" fill="#111" font-family="'Liberation Sans', sans-serif"  stroke="#111" stroke-width="0.3">30</text>
<line x1="514.71" y1="410.3" x2="514.71" y2="412.8" stroke="#222" stroke-width="1" />
<text x="514.71" y="420.56" font-size="8.5" text-anchor="middle" font-weight="bold" fill="#111" font-family="'Liberation Sans', sans-serif"  stroke="#111" stroke-width="0.3">35</text>
<line x1="530.5" y1="410.3" x2="530.5" y2="412.8" stroke="#222" stroke-width="1" />
<text x="530.5" y="420.56" font-size="8.5" text-anchor="middle" font-weight="bold" fill="#111" font-family="'Liberation Sans', sans-serif"  stroke="#111" stroke-width="0.3">40</text>
<line x1="412.09" y1="410.3" x2="412.09" y2="411.8" stroke="#222" stroke-width="0.8" />
<line x1="427.88" y1="410.3" x2="427.88" y2="411.8" stroke="#222" stroke-width="0.8" />
<line x1="443.67" y1="410.3" x2="443.67" y2="411.8" stroke="#222" stroke-width="0.8" />
<line x1="459.46" y1="410.3" x2="459.46" y2="411.8" stroke="#222" stroke-width="0.8" />
<line x1="475.24" y1="410.3" x2="475.24" y2="411.8" stroke="#222" stroke-width="0.8" />
<line x1="491.03" y1="410.3" x2="491.03" y2="411.8" stroke="#222" stroke-width="0.8" />
<line x1="506.82" y1="410.3" x2="506.82" y2="411.8" stroke="#222" stroke-width="0.8" />
<line x1="522.61" y1="410.3" x2="522.61" y2="411.8" stroke="#222" stroke-width="0.8" />
<text x="0" y="0" transform="translate(389.14,360) rotate(-90)" font-size="11.5" text-anchor="middle" font-weight="bold" fill="#111" stroke="#111" stroke-width="0.3" font-family="'Liberation Sans', sans-serif">EPSC(nA)</text>
<text x="467" y="436.64" font-size="11.5" text-anchor="middle" font-weight="bold" fill="#111" font-family="'Liberation Sans', sans-serif"  stroke="#111" stroke-width="0.3">Time(s)</text>
<text x="17" y="447" font-size="12" text-anchor="start" font-weight="normal" fill="#333" font-family="'Liberation Serif', serif" >(h)</text>
<polyline points="59.9,550.6 59.99,548.53 60.11,545.57 60.26,542.11 60.42,538.53 60.57,535.2 60.7,532.5 60.79,530.5 60.83,528.9 60.88,527.55 60.94,526.3 61.08,525 61.3,523.5 61.63,521.82 62.05,520.09 62.52,518.31 63.04,516.47 63.57,514.57 64.1,512.6 64.63,510.57 65.18,508.49 65.74,506.35 66.33,504.14 66.94,501.84 67.56,499.46 68.28,496.77 69.08,493.73 69.9,490.61 70.67,487.67 71.33,485.18 71.8,483.4 72.38,484.6 72.96,485.74 73.54,486.83 74.12,487.86 74.7,488.84 75.28,489.77 75.86,490.66 76.44,491.5 77.02,492.29 77.59,493.05 78.17,493.77 78.75,494.46 79.33,495.11 79.91,495.72 80.49,496.31 81.07,496.87 81.65,497.4 82.23,497.9 82.81,498.38 83.39,498.83 83.97,499.26 84.55,499.67 85.13,500.06 85.71,500.43 86.29,500.78 86.87,501.11 87.45,501.43 88.03,501.73 88.61,502.02 89.18,502.29 89.76,502.55 90.34,502.79 90.92,503.03 91.5,503.25 92.08,503.46 92.66,503.66 93.24,503.85 93.82,504.03 94.4,504.2" fill="none" stroke="#c49680" stroke-width="1.4" stroke-linejoin="round" stroke-linecap="round" />
<polyline points="101.1,551 101.21,548.82 101.37,545.7 101.56,542.06 101.76,538.3 101.94,534.81 102.1,532 102.21,529.9 102.28,528.18 102.34,526.74 102.42,525.47 102.53,524.26 102.7,523 102.92,521.86 103.16,520.97 103.44,520.14 103.77,519.19 104.15,517.94 104.6,516.2 105.13,513.93 105.73,511.27 106.4,508.3 107.1,505.13 107.83,501.85 108.56,498.56 109.37,494.94 110.29,490.87 111.23,486.68 112.11,482.73 112.86,479.39 113.4,477 113.96,478.2 114.52,479.34 115.08,480.43 115.64,481.46 116.19,482.44 116.75,483.37 117.31,484.26 117.87,485.1 118.43,485.89 118.99,486.65 119.55,487.37 120.11,488.06 120.67,488.71 121.23,489.32 121.78,489.91 122.34,490.47 122.9,491 123.46,491.5 124.02,491.98 124.58,492.43 125.14,492.86 125.7,493.27 126.26,493.66 126.82,494.03 127.37,494.38 127.93,494.71 128.49,495.03 129.05,495.33 129.61,495.62 130.17,495.89 130.73,496.15 131.29,496.39 131.85,496.63 132.41,496.85 132.96,497.06 133.52,497.26 134.08,497.45 134.64,497.63 135.2,497.8" fill="none" stroke="#ccc430" stroke-width="1.4" stroke-linejoin="round" stroke-linecap="round" />
<polyline points="145.4,550.6 145.49,548.77 145.61,546.16 145.76,543.11 145.92,539.94 146.07,536.96 146.2,534.5 146.29,532.59 146.34,530.99 146.39,529.58 146.46,528.26 146.59,526.94 146.8,525.5 147.11,524.01 147.48,522.57 147.92,521.13 148.39,519.62 148.89,517.99 149.4,516.2 149.92,514.24 150.47,512.14 151.05,509.94 151.65,507.63 152.27,505.25 152.91,502.79 153.63,500.04 154.44,496.94 155.27,493.76 156.06,490.76 156.72,488.22 157.2,486.4 157.66,487.52 158.12,488.59 158.58,489.6 159.05,490.56 159.51,491.47 159.97,492.34 160.43,493.17 160.89,493.95 161.35,494.69 161.82,495.4 162.28,496.07 162.74,496.71 163.2,497.32 163.66,497.89 164.12,498.44 164.58,498.96 165.05,499.45 165.51,499.92 165.97,500.37 166.43,500.79 166.89,501.19 167.35,501.58 167.82,501.94 168.28,502.28 168.74,502.61 169.2,502.92 169.66,503.22 170.12,503.5 170.58,503.77 171.05,504.02 171.51,504.26 171.97,504.49 172.43,504.71 172.89,504.91 173.35,505.11 173.82,505.3 174.28,505.47 174.74,505.64 175.2,505.8" fill="none" stroke="#4c76d4" stroke-width="1.4" stroke-linejoin="round" stroke-linecap="round" />
<text x="55" y="464.5" font-size="8.9" text-anchor="start" font-weight="bold" fill="#222" font-family="'Liberation Serif', serif"  stroke="#222" stroke-width="0.3">Wavelength</text>
<line x1="57.4" y1="469.2" x2="67.4" y2="469.2" stroke="#c49680" stroke-width="1.4" />
<text x="68.6" y="472.18" font-size="8" text-anchor="start" font-weight="bold" fill="#111" font-family="'Liberation Sans', sans-serif"  stroke="#111" stroke-width="0.3">365 nm</text>
<line x1="96.5" y1="469.2" x2="107.8" y2="469.2" stroke="#ccc430" stroke-width="1.4" />
<text x="110.4" y="472.18" font-size="8" text-anchor="start" font-weight="bold" fill="#111" font-family="'Liberation Sans', sans-serif"  stroke="#111" stroke-width="0.3">465 nm</text>
<line x1="140.6" y1="469.2" x2="150.4" y2="469.2" stroke="#4c76d4" stroke-width="1.4" />
<text x="152.4" y="472.18" font-size="8" text-anchor="start" font-weight="bold" fill="#111" font-family="'Liberation Sans', sans-serif"  stroke="#111" stroke-width="0.3">515 nm</text>
<rect x="52.6" y="455.8" width="128" height="102.4" fill="none" stroke="#222" stroke-width="1.3" />
<line x1="50.1" y1="558.2" x2="52.6" y2="558.2" stroke="#222" stroke-width="1" />
<text x="49.8" y="561.26" font-size="8.5" text-anchor="end" font-weight="bold" fill="#111" font-family="'Liberation Sans', sans-serif"  stroke="#111" stroke-width="0.3">0</text>
<line x1="50.1" y1="544.6" x2="52.6" y2="544.6" stroke="#222" stroke-width="1" />
<text x="49.8" y="547.66" font-size="8.5" text-anchor="end" font-weight="bold" fill="#111" font-family="'Liberation Sans', sans-serif"  stroke="#111" stroke-width="0.3">20</text>
<line x1="50.1" y1="531" x2="52.6" y2="531" stroke="#222" stroke-width="1" />
<text x="49.8" y="534.06" font-size="8.5" text-anchor="end" font-weight="bold" fill="#111" font-family="'Liberation Sans', sans-serif"  stroke="#111" stroke-width="0.3">40</text>
<line x1="50.1" y1="517.4" x2="52.6" y2="517.4" stroke="#222" stroke-width="1" />
<text x="49.8" y="520.46" font-size="8.5" text-anchor="end" font-weight="bold" fill="#111" font-family="'Liberation Sans', sans-serif"  stroke="#111" stroke-width="0.3">60</text>
<line x1="50.1" y1="503.8" x2="52.6" y2="503.8" stroke="#222" stroke-width="1" />
<text x="49.8" y="506.86" font-size="8.5" text-anchor="end" font-weight="bold" fill="#111" font-family="'Liberation Sans', sans-serif"  stroke="#111" stroke-width="0.3">80</text>
<line x1="50.1" y1="490.2" x2="52.6" y2="490.2" stroke="#222" stroke-width="1" />
<text x="49.8" y="493.26" font-size="8.5" text-anchor="end" font-weight="bold" fill="#111" font-family="'Liberation Sans', sans-serif"  stroke="#111" stroke-width="0.3">100</text>
<line x1="50.1" y1="476.6" x2="52.6" y2="476.6" stroke="#222" stroke-width="1" />
<text x="49.8" y="479.66" font-size="8.5" text-anchor="end" font-weight="bold" fill="#111" font-family="'Liberation Sans', sans-serif"  stroke="#111" stroke-width="0.3">120</text>
<line x1="50.1" y1="463" x2="52.6" y2="463" stroke="#222" stroke-width="1" />
<text x="49.8" y="466.06" font-size="8.5" text-anchor="end" font-weight="bold" fill="#111" font-family="'Liberation Sans', sans-serif"  stroke="#111" stroke-width="0.3">140</text>
<line x1="51.1" y1="551.4" x2="52.6" y2="551.4" stroke="#222" stroke-width="0.8" />
<line x1="51.1" y1="537.8" x2="52.6" y2="537.8" stroke="#222" stroke-width="0.8" />
<line x1="51.1" y1="524.2" x2="52.6" y2="524.2" stroke="#222" stroke-width="0.8" />
<line x1="51.1" y1="510.6" x2="52.6" y2="510.6" stroke="#222" stroke-width="0.8" />
<line x1="51.1" y1="497" x2="52.6" y2="497" stroke="#222" stroke-width="0.8" />
<line x1="51.1" y1="483.4" x2="52.6" y2="483.4" stroke="#222" stroke-width="0.8" />
<line x1="51.1" y1="469.8" x2="52.6" y2="469.8" stroke="#222" stroke-width="0.8" />
<line x1="53.1" y1="558.2" x2="53.1" y2="560.7" stroke="#222" stroke-width="1" />
<text x="53.1" y="568.86" font-size="8.5" text-anchor="middle" font-weight="bold" fill="#111" font-family="'Liberation Sans', sans-serif"  stroke="#111" stroke-width="0.3">0</text>
<line x1="81.53" y1="558.2" x2="81.53" y2="560.7" stroke="#222" stroke-width="1" />
<text x="81.53" y="568.86" font-size="8.5" text-anchor="middle" font-weight="bold" fill="#111" font-family="'Liberation Sans', sans-serif"  stroke="#111" stroke-width="0.3">50</text>
<line x1="109.95" y1="558.2" x2="109.95" y2="560.7" stroke="#222" stroke-width="1" />
<text x="109.95" y="568.86" font-size="8.5" text-anchor="middle" font-weight="bold" fill="#111" font-family="'Liberation Sans', sans-serif"  stroke="#111" stroke-width="0.3">100</text>
<line x1="138.38" y1="558.2" x2="138.38" y2="560.7" stroke="#222" stroke-width="1" />
<text x="138.38" y="568.86" font-size="8.5" text-anchor="middle" font-weight="bold" fill="#111" font-family="'Liberation Sans', sans-serif"  stroke="#111" stroke-width="0.3">150</text>
<line x1="166.8" y1="558.2" x2="166.8" y2="560.7" stroke="#222" stroke-width="1" />
<text x="166.8" y="568.86" font-size="8.5" text-anchor="middle" font-weight="bold" fill="#111" font-family="'Liberation Sans', sans-serif"  stroke="#111" stroke-width="0.3">200</text>
<line x1="67.31" y1="558.2" x2="67.31" y2="559.7" stroke="#222" stroke-width="0.8" />
<line x1="95.74" y1="558.2" x2="95.74" y2="559.7" stroke="#222" stroke-width="0.8" />
<line x1="124.16" y1="558.2" x2="124.16" y2="559.7" stroke="#222" stroke-width="0.8" />
<line x1="152.59" y1="558.2" x2="152.59" y2="559.7" stroke="#222" stroke-width="0.8" />
<text x="0" y="0" transform="translate(32.34,507.5) rotate(-90)" font-size="11.5" text-anchor="middle" font-weight="bold" fill="#111" stroke="#111" stroke-width="0.3" font-family="'Liberation Sans', sans-serif">EPSC(nA)</text>
<text x="117.5" y="585.44" font-size="11.5" text-anchor="middle" font-weight="bold" fill="#111" font-family="'Liberation Sans', sans-serif"  stroke="#111" stroke-width="0.3">Time(s)</text>
<text x="189.8" y="447.7" font-size="12" text-anchor="start" font-weight="normal" fill="#333" font-family="'Liberation Serif', serif" >(i)</text>
<polyline points="227.3,541.9 244.3,541.2 245.1,520.7 245.1,520.7 245.18,518.59 245.28,515.59 245.41,512.13 245.61,508.65 245.9,505.6 246.31,502.97 246.82,500.48 247.38,498.12 247.96,495.89 248.5,493.8 249.01,491.85 249.51,490.04 250,488.36 250.5,486.81 251,485.4 251.52,484.11 252.05,482.94 252.58,481.91 253.07,481.02 253.5,480.3 253.87,479.78 254.21,479.44 254.49,479.24 254.73,479.12 254.9,479 257.7,488.7 258.9,490.4 258.9,490.4 259.07,489.57 259.31,488.45 259.59,487.07 259.93,485.47 260.3,483.7 260.72,481.61 261.18,479.18 261.69,476.62 262.23,474.12 262.8,471.9 263.42,469.92 264.1,468.04 264.79,466.32 265.47,464.79 266.1,463.5 266.71,462.49 267.32,461.73 267.88,461.16 268.36,460.74 268.7,460.4 268.7,460.4 268.97,461.34 269.35,462.67 269.79,464.24 270.27,465.85 270.75,467.33 271.2,468.5 271.59,469.33 271.94,469.95 272.29,470.44 272.67,470.88 273.13,471.34 273.7,471.9 274.38,472.57 275.15,473.3 275.99,474.06 276.89,474.8 277.83,475.49 278.8,476.1 279.73,476.63 280.63,477.09 281.56,477.51 282.63,477.9 283.91,478.26 285.5,478.6 287.4,478.93 289.55,479.24 291.92,479.52 294.47,479.77 297.17,480 300,480.2 302.85,480.36 305.74,480.49 308.78,480.59 312.09,480.67 315.79,480.73 320,480.8 325.25,480.86 331.56,480.9 338.25,480.94 344.67,480.96 350.14,480.98 354,481" fill="none" stroke="#d8d050" stroke-width="1.4" stroke-linejoin="round" stroke-linecap="round" />
<line x1="248.5" y1="477.4" x2="260.8" y2="477.4" stroke="#3a58c0" stroke-width="1.2" stroke-dasharray="2.8,1.6"/>
<line x1="266.8" y1="459.3" x2="279.6" y2="459.3" stroke="#3a58c0" stroke-width="1.2" stroke-dasharray="2.8,1.6"/>
<line x1="248.5" y1="543.4" x2="279.6" y2="543.4" stroke="#3a58c0" stroke-width="1.2" stroke-dasharray="2.8,1.6"/>
<line x1="256.9" y1="480.6" x2="256.9" y2="540.2" stroke="#3a58c0" stroke-width="1.3" />
<polygon points="256.9,477.6 255.2,481.4 258.6,481.4" fill="#3a58c0" stroke="none" stroke-width="1" />
<polygon points="256.9,543.2 255.2,539.4 258.6,539.4" fill="#3a58c0" stroke="none" stroke-width="1" />
<line x1="274.3" y1="462.5" x2="274.3" y2="540.2" stroke="#3a58c0" stroke-width="1.3" />
<polygon points="274.3,459.5 272.6,463.3 276,463.3" fill="#3a58c0" stroke="none" stroke-width="1" />
<polygon points="274.3,543.2 272.6,539.4 276,539.4" fill="#3a58c0" stroke="none" stroke-width="1" />
<text x="263.8" y="508.2" font-size="7.5" text-anchor="middle" font-weight="normal" fill="#3a58c0" font-family="'Liberation Sans', sans-serif" stroke="#3a58c0" stroke-width="0.25">A1</text>
<text x="281.7" y="508.2" font-size="7.5" text-anchor="middle" font-weight="normal" fill="#3a58c0" font-family="'Liberation Sans', sans-serif" stroke="#3a58c0" stroke-width="0.25">A2</text>
<rect x="227.4" y="456.2" width="127.2" height="100.9" fill="none" stroke="#222" stroke-width="1.3" />
<line x1="224.9" y1="542.5" x2="227.4" y2="542.5" stroke="#222" stroke-width="1" />
<text x="224.3" y="545.56" font-size="8.5" text-anchor="end" font-weight="bold" fill="#111" font-family="'Liberation Sans', sans-serif"  stroke="#111" stroke-width="0.3">7.5</text>
<line x1="224.9" y1="513.7" x2="227.4" y2="513.7" stroke="#222" stroke-width="1" />
<text x="224.3" y="516.76" font-size="8.5" text-anchor="end" font-weight="bold" fill="#111" font-family="'Liberation Sans', sans-serif"  stroke="#111" stroke-width="0.3">8.0</text>
<line x1="224.9" y1="484.9" x2="227.4" y2="484.9" stroke="#222" stroke-width="1" />
<text x="224.3" y="487.96" font-size="8.5" text-anchor="end" font-weight="bold" fill="#111" font-family="'Liberation Sans', sans-serif"  stroke="#111" stroke-width="0.3">8.5</text>
<line x1="224.9" y1="456.1" x2="227.4" y2="456.1" stroke="#222" stroke-width="1" />
<text x="224.3" y="459.16" font-size="8.5" text-anchor="end" font-weight="bold" fill="#111" font-family="'Liberation Sans', sans-serif"  stroke="#111" stroke-width="0.3">9.0</text>
<line x1="225.9" y1="528.1" x2="227.4" y2="528.1" stroke="#222" stroke-width="0.8" />
<line x1="225.9" y1="499.3" x2="227.4" y2="499.3" stroke="#222" stroke-width="0.8" />
<line x1="225.9" y1="470.5" x2="227.4" y2="470.5" stroke="#222" stroke-width="0.8" />
<line x1="227.4" y1="557.1" x2="227.4" y2="559.6" stroke="#222" stroke-width="1" />
<text x="227.4" y="567.56" font-size="8.5" text-anchor="middle" font-weight="bold" fill="#111" font-family="'Liberation Sans', sans-serif"  stroke="#111" stroke-width="0.3">0</text>
<line x1="245.6" y1="557.1" x2="245.6" y2="559.6" stroke="#222" stroke-width="1" />
<text x="245.6" y="567.56" font-size="8.5" text-anchor="middle" font-weight="bold" fill="#111" font-family="'Liberation Sans', sans-serif"  stroke="#111" stroke-width="0.3">1</text>
<line x1="263.8" y1="557.1" x2="263.8" y2="559.6" stroke="#222" stroke-width="1" />
<text x="263.8" y="567.56" font-size="8.5" text-anchor="middle" font-weight="bold" fill="#111" font-family="'Liberation Sans', sans-serif"  stroke="#111" stroke-width="0.3">2</text>
<line x1="282" y1="557.1" x2="282" y2="559.6" stroke="#222" stroke-width="1" />
<text x="282" y="567.56" font-size="8.5" text-anchor="middle" font-weight="bold" fill="#111" font-family="'Liberation Sans', sans-serif"  stroke="#111" stroke-width="0.3">3</text>
<line x1="300.2" y1="557.1" x2="300.2" y2="559.6" stroke="#222" stroke-width="1" />
<text x="300.2" y="567.56" font-size="8.5" text-anchor="middle" font-weight="bold" fill="#111" font-family="'Liberation Sans', sans-serif"  stroke="#111" stroke-width="0.3">4</text>
<line x1="318.4" y1="557.1" x2="318.4" y2="559.6" stroke="#222" stroke-width="1" />
<text x="318.4" y="567.56" font-size="8.5" text-anchor="middle" font-weight="bold" fill="#111" font-family="'Liberation Sans', sans-serif"  stroke="#111" stroke-width="0.3">5</text>
<line x1="336.6" y1="557.1" x2="336.6" y2="559.6" stroke="#222" stroke-width="1" />
<text x="336.6" y="567.56" font-size="8.5" text-anchor="middle" font-weight="bold" fill="#111" font-family="'Liberation Sans', sans-serif"  stroke="#111" stroke-width="0.3">6</text>
<line x1="354.8" y1="557.1" x2="354.8" y2="559.6" stroke="#222" stroke-width="1" />
<text x="354.8" y="567.56" font-size="8.5" text-anchor="middle" font-weight="bold" fill="#111" font-family="'Liberation Sans', sans-serif"  stroke="#111" stroke-width="0.3">7</text>
<line x1="236.5" y1="557.1" x2="236.5" y2="558.6" stroke="#222" stroke-width="0.8" />
<line x1="254.7" y1="557.1" x2="254.7" y2="558.6" stroke="#222" stroke-width="0.8" />
<line x1="272.9" y1="557.1" x2="272.9" y2="558.6" stroke="#222" stroke-width="0.8" />
<line x1="291.1" y1="557.1" x2="291.1" y2="558.6" stroke="#222" stroke-width="0.8" />
<line x1="309.3" y1="557.1" x2="309.3" y2="558.6" stroke="#222" stroke-width="0.8" />
<line x1="327.5" y1="557.1" x2="327.5" y2="558.6" stroke="#222" stroke-width="0.8" />
<line x1="345.7" y1="557.1" x2="345.7" y2="558.6" stroke="#222" stroke-width="0.8" />
<text x="0" y="0" transform="translate(209.34,507) rotate(-90)" font-size="11.5" text-anchor="middle" font-weight="bold" fill="#111" stroke="#111" stroke-width="0.3" font-family="'Liberation Sans', sans-serif">EPSC(nA)</text>
<text x="291.5" y="583.44" font-size="11.5" text-anchor="middle" font-weight="bold" fill="#111" font-family="'Liberation Sans', sans-serif"  stroke="#111" stroke-width="0.3">Time(s)</text>
<text x="369.8" y="448.3" font-size="12" text-anchor="start" font-weight="normal" fill="#333" font-family="'Liberation Serif', serif" >(j)</text>
<polyline points="416.25,469.7 417.28,475.12 418.31,479.95 419.34,484.25 420.37,488.09 421.4,491.52 422.43,494.57 423.46,497.31 424.49,499.75 425.52,501.94 426.56,503.9 427.59,505.66 428.62,507.24 429.65,508.66 430.68,509.95 431.71,511.1 432.74,512.15 433.77,513.1 434.8,513.97 435.83,514.75 436.86,515.47 437.89,516.13 438.92,516.73 439.95,517.29 440.98,517.8 442.01,518.28 443.04,518.72 444.07,519.13 445.1,519.52 446.13,519.88 447.17,520.23 448.2,520.55 449.23,520.86 450.26,521.16 451.29,521.44 452.32,521.71 453.35,521.97 454.38,522.22 455.41,522.47 456.44,522.7 457.47,522.93 458.5,523.16 459.53,523.38 460.56,523.59 461.59,523.81 462.62,524.02 463.65,524.22 464.68,524.42 465.71,524.63 466.74,524.82 467.78,525.02 468.81,525.22 469.84,525.41 470.87,525.6 471.9,525.79 472.93,525.98 473.96,526.17 474.99,526.36 476.02,526.55 477.05,526.73 478.08,526.92 479.11,527.11 480.14,527.29 481.17,527.48 482.2,527.66 483.23,527.85 484.26,528.03 485.29,528.22 486.32,528.4 487.35,528.58 488.38,528.77 489.42,528.95 490.45,529.13 491.48,529.32 492.51,529.5 493.54,529.68 494.57,529.86 495.6,530.05 496.63,530.23 497.66,530.41 498.69,530.59 499.72,530.78 500.75,530.96 501.78,531.14 502.81,531.32 503.84,531.51 504.87,531.69 505.9,531.87 506.93,532.05 507.96,532.23 509,532.42 510.03,532.6 511.06,532.78 512.09,532.96 513.12,533.14 514.15,533.33 515.18,533.51 516.21,533.69 517.24,533.87 518.27,534.06 519.3,534.24" fill="none" stroke="#b8703a" stroke-width="1.3" stroke-linejoin="round" stroke-linecap="round" />
<circle cx="416.25" cy="469.71" r="1.45" fill="#1a1a1a" stroke="none" stroke-width="1" />
<circle cx="427.7" cy="505.6" r="1.45" fill="#1a1a1a" stroke="none" stroke-width="1" />
<circle cx="439.15" cy="517.71" r="1.45" fill="#1a1a1a" stroke="none" stroke-width="1" />
<circle cx="450.6" cy="521.42" r="1.45" fill="#1a1a1a" stroke="none" stroke-width="1" />
<circle cx="462.05" cy="522.51" r="1.45" fill="#1a1a1a" stroke="none" stroke-width="1" />
<circle cx="473.5" cy="525.57" r="1.45" fill="#1a1a1a" stroke="none" stroke-width="1" />
<circle cx="496.4" cy="532.11" r="1.45" fill="#1a1a1a" stroke="none" stroke-width="1" />
<circle cx="519.3" cy="533.42" r="1.45" fill="#1a1a1a" stroke="none" stroke-width="1" />
<circle cx="489.6" cy="463.2" r="1.45" fill="#1a1a1a" stroke="none" stroke-width="1" />
<text x="501.5" y="466.46" font-size="8.5" text-anchor="start" font-weight="bold" fill="#111" font-family="'Liberation Sans', sans-serif"  stroke="#111" stroke-width="0.3">Data</text>
<line x1="484.4" y1="474.3" x2="497.5" y2="474.3" stroke="#b8703a" stroke-width="1.6" />
<text x="501.5" y="477.56" font-size="8.5" text-anchor="start" font-weight="bold" fill="#111" font-family="'Liberation Sans', sans-serif"  stroke="#111" stroke-width="0.3">Fitting</text>
<rect x="404.6" y="456.7" width="126" height="98.6" fill="none" stroke="#222" stroke-width="1.3" />
<line x1="402.1" y1="554.48" x2="404.6" y2="554.48" stroke="#222" stroke-width="1" />
<text x="401.6" y="557.54" font-size="8.5" text-anchor="end" font-weight="bold" fill="#111" font-family="'Liberation Sans', sans-serif"  stroke="#111" stroke-width="0.3">24</text>
<line x1="402.1" y1="532.66" x2="404.6" y2="532.66" stroke="#222" stroke-width="1" />
<text x="401.6" y="535.72" font-size="8.5" text-anchor="end" font-weight="bold" fill="#111" font-family="'Liberation Sans', sans-serif"  stroke="#111" stroke-width="0.3">26</text>
<line x1="402.1" y1="510.84" x2="404.6" y2="510.84" stroke="#222" stroke-width="1" />
<text x="401.6" y="513.9" font-size="8.5" text-anchor="end" font-weight="bold" fill="#111" font-family="'Liberation Sans', sans-serif"  stroke="#111" stroke-width="0.3">28</text>
<line x1="402.1" y1="489.02" x2="404.6" y2="489.02" stroke="#222" stroke-width="1" />
<text x="401.6" y="492.08" font-size="8.5" text-anchor="end" font-weight="bold" fill="#111" font-family="'Liberation Sans', sans-serif"  stroke="#111" stroke-width="0.3">30</text>
<line x1="402.1" y1="467.2" x2="404.6" y2="467.2" stroke="#222" stroke-width="1" />
<text x="401.6" y="470.26" font-size="8.5" text-anchor="end" font-weight="bold" fill="#111" font-family="'Liberation Sans', sans-serif"  stroke="#111" stroke-width="0.3">32</text>
<line x1="403.1" y1="543.57" x2="404.6" y2="543.57" stroke="#222" stroke-width="0.8" />
<line x1="403.1" y1="521.75" x2="404.6" y2="521.75" stroke="#222" stroke-width="0.8" />
<line x1="403.1" y1="499.93" x2="404.6" y2="499.93" stroke="#222" stroke-width="0.8" />
<line x1="403.1" y1="478.11" x2="404.6" y2="478.11" stroke="#222" stroke-width="0.8" />
<line x1="404.8" y1="555.3" x2="404.8" y2="557.8" stroke="#222" stroke-width="1" />
<text x="404.8" y="565.46" font-size="8.5" text-anchor="middle" font-weight="bold" fill="#111" font-family="'Liberation Sans', sans-serif"  stroke="#111" stroke-width="0.3">0.0</text>
<line x1="427.7" y1="555.3" x2="427.7" y2="557.8" stroke="#222" stroke-width="1" />
<text x="427.7" y="565.46" font-size="8.5" text-anchor="middle" font-weight="bold" fill="#111" font-family="'Liberation Sans', sans-serif"  stroke="#111" stroke-width="0.3">0.2</text>
<line x1="450.6" y1="555.3" x2="450.6" y2="557.8" stroke="#222" stroke-width="1" />
<text x="450.6" y="565.46" font-size="8.5" text-anchor="middle" font-weight="bold" fill="#111" font-family="'Liberation Sans', sans-serif"  stroke="#111" stroke-width="0.3">0.4</text>
<line x1="473.5" y1="555.3" x2="473.5" y2="557.8" stroke="#222" stroke-width="1" />
<text x="473.5" y="565.46" font-size="8.5" text-anchor="middle" font-weight="bold" fill="#111" font-family="'Liberation Sans', sans-serif"  stroke="#111" stroke-width="0.3">0.6</text>
<line x1="496.4" y1="555.3" x2="496.4" y2="557.8" stroke="#222" stroke-width="1" />
<text x="496.4" y="565.46" font-size="8.5" text-anchor="middle" font-weight="bold" fill="#111" font-family="'Liberation Sans', sans-serif"  stroke="#111" stroke-width="0.3">0.8</text>
<line x1="519.3" y1="555.3" x2="519.3" y2="557.8" stroke="#222" stroke-width="1" />
<text x="519.3" y="565.46" font-size="8.5" text-anchor="middle" font-weight="bold" fill="#111" font-family="'Liberation Sans', sans-serif"  stroke="#111" stroke-width="0.3">1.0</text>
<line x1="416.25" y1="555.3" x2="416.25" y2="556.8" stroke="#222" stroke-width="0.8" />
<line x1="439.15" y1="555.3" x2="439.15" y2="556.8" stroke="#222" stroke-width="0.8" />
<line x1="462.05" y1="555.3" x2="462.05" y2="556.8" stroke="#222" stroke-width="0.8" />
<line x1="484.95" y1="555.3" x2="484.95" y2="556.8" stroke="#222" stroke-width="0.8" />
<line x1="507.85" y1="555.3" x2="507.85" y2="556.8" stroke="#222" stroke-width="0.8" />
<text x="0" y="0" transform="translate(389.01,505.8) rotate(-90)" font-size="11.7" text-anchor="middle" font-weight="bold" fill="#111" stroke="#111" stroke-width="0.3" font-family="'Liberation Sans', sans-serif" textLength="70" lengthAdjust="spacingAndGlyphs">PPF Index(%)</text>
<text x="468" y="577.94" font-size="11.5" text-anchor="middle" font-weight="bold" fill="#111" font-family="'Liberation Sans', sans-serif"  stroke="#111" stroke-width="0.3">Pulse Interval Time(s)</text>
</svg></body></html>
